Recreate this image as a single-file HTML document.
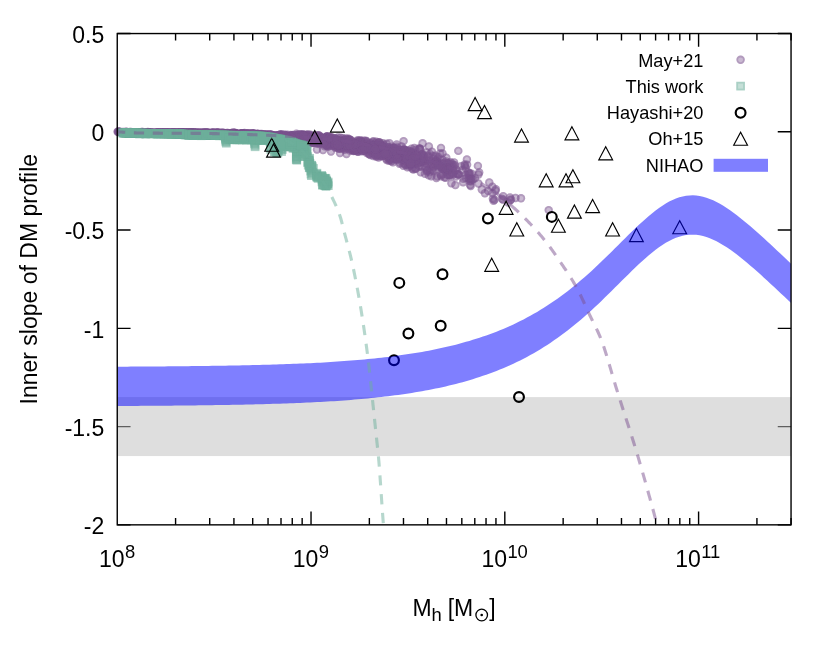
<!DOCTYPE html>
<html><head><meta charset="utf-8"><title>Inner slope of DM profile</title>
<style>html,body{margin:0;padding:0;background:#fff;}svg{display:block;font-family:"Liberation Sans", sans-serif;will-change:transform;}text{font-family:"Liberation Sans", sans-serif;fill:#000;}</style></head><body>
<svg width="830" height="664" viewBox="0 0 830 664">
<rect x="0" y="0" width="830" height="664" fill="#fff"/>
<defs><g id="p"><circle r="4.2" fill="rgb(123,82,143)" fill-opacity="0.4"/><circle r="3.3" fill="none" stroke="rgb(123,82,143)" stroke-opacity="0.3" stroke-width="1.8"/></g><g id="q"><rect x="-4.3" y="-4.3" width="8.6" height="8.6" fill="rgb(110,176,156)" fill-opacity="0.4"/><rect x="-3.4" y="-3.4" width="6.8" height="6.8" fill="none" stroke="rgb(110,176,156)" stroke-opacity="0.3" stroke-width="1.8"/></g></defs>
<g stroke="#000" stroke-width="1.40" fill="none" stroke-linecap="butt">
<path d="M175.58 524.85V517.95M175.58 33.55V40.45"/>
<path d="M209.71 524.85V517.95M209.71 33.55V40.45"/>
<path d="M233.92 524.85V517.95M233.92 33.55V40.45"/>
<path d="M252.70 524.85V517.95M252.70 33.55V40.45"/>
<path d="M268.04 524.85V517.95M268.04 33.55V40.45"/>
<path d="M281.01 524.85V517.95M281.01 33.55V40.45"/>
<path d="M292.25 524.85V517.95M292.25 33.55V40.45"/>
<path d="M302.16 524.85V517.95M302.16 33.55V40.45"/>
<path d="M311.03 524.85V511.55M311.03 33.55V46.85"/>
<path d="M369.36 524.85V517.95M369.36 33.55V40.45"/>
<path d="M403.49 524.85V517.95M403.49 33.55V40.45"/>
<path d="M427.70 524.85V517.95M427.70 33.55V40.45"/>
<path d="M446.48 524.85V517.95M446.48 33.55V40.45"/>
<path d="M461.82 524.85V517.95M461.82 33.55V40.45"/>
<path d="M474.79 524.85V517.95M474.79 33.55V40.45"/>
<path d="M486.03 524.85V517.95M486.03 33.55V40.45"/>
<path d="M495.95 524.85V517.95M495.95 33.55V40.45"/>
<path d="M504.81 524.85V511.55M504.81 33.55V46.85"/>
<path d="M563.15 524.85V517.95M563.15 33.55V40.45"/>
<path d="M597.27 524.85V517.95M597.27 33.55V40.45"/>
<path d="M621.48 524.85V517.95M621.48 33.55V40.45"/>
<path d="M640.26 524.85V517.95M640.26 33.55V40.45"/>
<path d="M655.60 524.85V517.95M655.60 33.55V40.45"/>
<path d="M668.58 524.85V517.95M668.58 33.55V40.45"/>
<path d="M679.81 524.85V517.95M679.81 33.55V40.45"/>
<path d="M689.73 524.85V517.95M689.73 33.55V40.45"/>
<path d="M698.59 524.85V511.55M698.59 33.55V46.85"/>
<path d="M756.93 524.85V517.95M756.93 33.55V40.45"/>
<path d="M791.05 524.85V517.95M791.05 33.55V40.45"/>
<path d="M117.25 33.55H130.55M791.05 33.55H777.75"/>
<path d="M117.25 131.81H130.55M791.05 131.81H777.75"/>
<path d="M117.25 230.07H130.55M791.05 230.07H777.75"/>
<path d="M117.25 328.33H130.55M791.05 328.33H777.75"/>
<path d="M117.25 426.59H130.55M791.05 426.59H777.75"/>
<path d="M117.25 524.85H130.55M791.05 524.85H777.75"/>
</g>
<rect x="117.25" y="397.11" width="673.80" height="58.96" fill="rgb(190,190,190)" fill-opacity="0.5"/>
<use href="#p" x="123.0" y="132.1"/>
<use href="#p" x="268.8" y="134.1"/>
<use href="#p" x="377.8" y="155.4"/>
<use href="#p" x="354.9" y="145.9"/>
<use href="#p" x="245.9" y="136.6"/>
<use href="#p" x="328.9" y="144.7"/>
<use href="#p" x="435.5" y="161.3"/>
<use href="#p" x="226.9" y="134.5"/>
<use href="#p" x="304.1" y="140.6"/>
<use href="#p" x="167.1" y="132.3"/>
<use href="#p" x="470.2" y="185.0"/>
<use href="#p" x="335.6" y="138.5"/>
<use href="#p" x="387.1" y="150.8"/>
<use href="#p" x="404.2" y="152.2"/>
<use href="#p" x="217.3" y="133.4"/>
<use href="#p" x="360.6" y="148.6"/>
<use href="#p" x="428.7" y="175.2"/>
<use href="#p" x="469.5" y="173.1"/>
<use href="#p" x="149.2" y="132.1"/>
<use href="#p" x="423.6" y="156.2"/>
<use href="#p" x="234.3" y="133.1"/>
<use href="#p" x="165.3" y="132.5"/>
<use href="#p" x="361.7" y="145.2"/>
<use href="#p" x="338.8" y="141.3"/>
<use href="#p" x="178.6" y="132.7"/>
<use href="#p" x="492.9" y="198.7"/>
<use href="#p" x="407.2" y="157.6"/>
<use href="#p" x="493.6" y="200.9"/>
<use href="#p" x="398.9" y="157.6"/>
<use href="#p" x="196.6" y="133.0"/>
<use href="#p" x="287.8" y="139.0"/>
<use href="#p" x="296.7" y="138.1"/>
<use href="#p" x="379.0" y="155.4"/>
<use href="#p" x="364.4" y="144.5"/>
<use href="#p" x="395.4" y="153.3"/>
<use href="#p" x="413.2" y="157.6"/>
<use href="#p" x="280.5" y="135.3"/>
<use href="#p" x="422.4" y="154.3"/>
<use href="#p" x="303.8" y="138.2"/>
<use href="#p" x="244.5" y="133.0"/>
<use href="#p" x="366.7" y="150.1"/>
<use href="#p" x="366.0" y="144.6"/>
<use href="#p" x="347.2" y="145.5"/>
<use href="#p" x="280.4" y="139.7"/>
<use href="#p" x="271.9" y="135.1"/>
<use href="#p" x="363.9" y="149.5"/>
<use href="#p" x="343.4" y="142.4"/>
<use href="#p" x="277.7" y="138.1"/>
<use href="#p" x="226.1" y="134.5"/>
<use href="#p" x="241.7" y="134.7"/>
<use href="#p" x="436.6" y="162.4"/>
<use href="#p" x="259.8" y="135.1"/>
<use href="#p" x="380.1" y="156.4"/>
<use href="#p" x="326.3" y="142.2"/>
<use href="#p" x="241.5" y="135.6"/>
<use href="#p" x="248.3" y="134.0"/>
<use href="#p" x="234.1" y="134.2"/>
<use href="#p" x="369.3" y="149.6"/>
<use href="#p" x="353.0" y="146.4"/>
<use href="#p" x="388.4" y="147.5"/>
<use href="#p" x="387.1" y="149.8"/>
<use href="#p" x="280.3" y="136.6"/>
<use href="#p" x="442.6" y="159.9"/>
<use href="#p" x="394.2" y="148.1"/>
<use href="#p" x="206.5" y="133.3"/>
<use href="#p" x="242.7" y="134.4"/>
<use href="#p" x="361.9" y="148.1"/>
<use href="#p" x="242.8" y="134.3"/>
<use href="#p" x="150.5" y="132.3"/>
<use href="#p" x="185.8" y="132.6"/>
<use href="#p" x="297.0" y="138.5"/>
<use href="#p" x="346.5" y="154.0"/>
<use href="#p" x="362.6" y="142.6"/>
<use href="#p" x="345.0" y="146.0"/>
<use href="#p" x="458.7" y="174.3"/>
<use href="#p" x="366.7" y="141.2"/>
<use href="#p" x="381.0" y="146.3"/>
<use href="#p" x="377.0" y="146.0"/>
<use href="#p" x="382.1" y="154.1"/>
<use href="#p" x="408.3" y="154.2"/>
<use href="#p" x="279.8" y="135.2"/>
<use href="#p" x="141.6" y="131.9"/>
<use href="#p" x="305.7" y="139.5"/>
<use href="#p" x="336.9" y="141.8"/>
<use href="#p" x="404.8" y="150.2"/>
<use href="#p" x="401.4" y="161.0"/>
<use href="#p" x="330.0" y="145.9"/>
<use href="#p" x="236.4" y="135.2"/>
<use href="#p" x="236.9" y="134.2"/>
<use href="#p" x="408.9" y="166.4"/>
<use href="#p" x="129.6" y="131.9"/>
<use href="#p" x="450.5" y="162.2"/>
<use href="#p" x="260.6" y="136.6"/>
<use href="#p" x="421.5" y="161.5"/>
<use href="#p" x="319.3" y="135.6"/>
<use href="#p" x="395.6" y="149.4"/>
<use href="#p" x="240.9" y="133.6"/>
<use href="#p" x="344.1" y="148.2"/>
<use href="#p" x="389.7" y="160.1"/>
<use href="#p" x="395.5" y="154.1"/>
<use href="#p" x="238.5" y="134.7"/>
<use href="#p" x="355.5" y="146.1"/>
<use href="#p" x="239.9" y="135.5"/>
<use href="#p" x="220.8" y="134.1"/>
<use href="#p" x="353.0" y="150.3"/>
<use href="#p" x="235.7" y="133.8"/>
<use href="#p" x="198.6" y="133.6"/>
<use href="#p" x="433.5" y="158.7"/>
<use href="#p" x="444.4" y="169.1"/>
<use href="#p" x="273.4" y="137.9"/>
<use href="#p" x="164.0" y="132.4"/>
<use href="#p" x="389.3" y="158.0"/>
<use href="#p" x="277.1" y="135.6"/>
<use href="#p" x="217.9" y="132.8"/>
<use href="#p" x="449.7" y="175.4"/>
<use href="#p" x="260.3" y="134.7"/>
<use href="#p" x="161.5" y="132.8"/>
<use href="#p" x="202.5" y="133.5"/>
<use href="#p" x="290.6" y="138.6"/>
<use href="#p" x="337.8" y="143.1"/>
<use href="#p" x="410.9" y="165.3"/>
<use href="#p" x="464.7" y="164.5"/>
<use href="#p" x="359.8" y="144.0"/>
<use href="#p" x="443.5" y="168.9"/>
<use href="#p" x="244.5" y="134.1"/>
<use href="#p" x="410.4" y="156.5"/>
<use href="#p" x="175.6" y="133.0"/>
<use href="#p" x="118.0" y="131.8"/>
<use href="#p" x="341.6" y="145.8"/>
<use href="#p" x="178.6" y="132.6"/>
<use href="#p" x="316.5" y="140.2"/>
<use href="#p" x="219.4" y="133.9"/>
<use href="#p" x="370.9" y="147.3"/>
<use href="#p" x="221.9" y="134.0"/>
<use href="#p" x="419.5" y="148.2"/>
<use href="#p" x="437.6" y="158.8"/>
<use href="#p" x="285.5" y="137.5"/>
<use href="#p" x="322.1" y="139.0"/>
<use href="#p" x="118.4" y="131.8"/>
<use href="#p" x="326.4" y="142.7"/>
<use href="#p" x="278.0" y="136.3"/>
<use href="#p" x="181.9" y="132.4"/>
<use href="#p" x="203.1" y="132.7"/>
<use href="#p" x="237.2" y="136.0"/>
<use href="#p" x="347.6" y="145.7"/>
<use href="#p" x="343.6" y="140.1"/>
<use href="#p" x="285.8" y="136.3"/>
<use href="#p" x="418.7" y="161.9"/>
<use href="#p" x="170.7" y="133.0"/>
<use href="#p" x="392.9" y="149.7"/>
<use href="#p" x="167.3" y="132.9"/>
<use href="#p" x="204.1" y="133.7"/>
<use href="#p" x="298.7" y="139.9"/>
<use href="#p" x="363.1" y="147.8"/>
<use href="#p" x="260.8" y="137.4"/>
<use href="#p" x="252.2" y="135.2"/>
<use href="#p" x="376.3" y="154.4"/>
<use href="#p" x="290.3" y="135.8"/>
<use href="#p" x="340.1" y="144.5"/>
<use href="#p" x="191.9" y="132.9"/>
<use href="#p" x="271.1" y="134.6"/>
<use href="#p" x="399.0" y="154.2"/>
<use href="#p" x="489.3" y="182.5"/>
<use href="#p" x="452.8" y="169.3"/>
<use href="#p" x="320.7" y="140.2"/>
<use href="#p" x="275.7" y="137.2"/>
<use href="#p" x="226.6" y="134.2"/>
<use href="#p" x="241.7" y="135.0"/>
<use href="#p" x="317.0" y="149.5"/>
<use href="#p" x="171.3" y="132.6"/>
<use href="#p" x="279.6" y="137.8"/>
<use href="#p" x="251.9" y="136.2"/>
<use href="#p" x="413.4" y="169.6"/>
<use href="#p" x="162.3" y="132.5"/>
<use href="#p" x="197.7" y="133.0"/>
<use href="#p" x="264.1" y="134.8"/>
<use href="#p" x="278.8" y="138.4"/>
<use href="#p" x="254.6" y="133.7"/>
<use href="#p" x="216.5" y="133.0"/>
<use href="#p" x="313.3" y="135.6"/>
<use href="#p" x="268.8" y="136.2"/>
<use href="#p" x="343.2" y="144.1"/>
<use href="#p" x="441.3" y="167.1"/>
<use href="#p" x="401.6" y="146.4"/>
<use href="#p" x="280.3" y="134.3"/>
<use href="#p" x="293.5" y="135.1"/>
<use href="#p" x="334.2" y="143.0"/>
<use href="#p" x="187.3" y="133.4"/>
<use href="#p" x="399.2" y="152.8"/>
<use href="#p" x="328.0" y="145.3"/>
<use href="#p" x="237.7" y="135.1"/>
<use href="#p" x="282.3" y="135.9"/>
<use href="#p" x="228.4" y="134.2"/>
<use href="#p" x="183.9" y="132.8"/>
<use href="#p" x="222.8" y="133.0"/>
<use href="#p" x="357.7" y="140.1"/>
<use href="#p" x="215.5" y="133.5"/>
<use href="#p" x="224.2" y="133.1"/>
<use href="#p" x="131.0" y="131.9"/>
<use href="#p" x="245.3" y="134.2"/>
<use href="#p" x="280.9" y="139.9"/>
<use href="#p" x="254.5" y="134.4"/>
<use href="#p" x="152.4" y="132.3"/>
<use href="#p" x="388.5" y="147.5"/>
<use href="#p" x="469.5" y="173.6"/>
<use href="#p" x="243.0" y="133.3"/>
<use href="#p" x="380.3" y="148.3"/>
<use href="#p" x="332.0" y="145.5"/>
<use href="#p" x="349.6" y="147.1"/>
<use href="#p" x="235.8" y="135.3"/>
<use href="#p" x="258.2" y="135.9"/>
<use href="#p" x="319.8" y="142.4"/>
<use href="#p" x="335.9" y="144.6"/>
<use href="#p" x="279.9" y="138.2"/>
<use href="#p" x="184.0" y="132.9"/>
<use href="#p" x="272.7" y="135.6"/>
<use href="#p" x="243.7" y="135.1"/>
<use href="#p" x="215.8" y="134.0"/>
<use href="#p" x="466.9" y="159.5"/>
<use href="#p" x="344.4" y="146.3"/>
<use href="#p" x="313.2" y="140.8"/>
<use href="#p" x="205.7" y="134.1"/>
<use href="#p" x="261.2" y="135.7"/>
<use href="#p" x="217.7" y="132.7"/>
<use href="#p" x="422.6" y="143.3"/>
<use href="#p" x="168.5" y="132.1"/>
<use href="#p" x="407.6" y="150.2"/>
<use href="#p" x="384.3" y="155.3"/>
<use href="#p" x="285.4" y="140.0"/>
<use href="#p" x="371.5" y="147.7"/>
<use href="#p" x="245.5" y="134.6"/>
<use href="#p" x="447.0" y="163.1"/>
<use href="#p" x="408.0" y="164.8"/>
<use href="#p" x="249.3" y="136.1"/>
<use href="#p" x="303.9" y="141.1"/>
<use href="#p" x="354.7" y="148.6"/>
<use href="#p" x="244.9" y="136.1"/>
<use href="#p" x="310.9" y="138.1"/>
<use href="#p" x="278.3" y="138.8"/>
<use href="#p" x="384.5" y="151.4"/>
<use href="#p" x="465.6" y="178.1"/>
<use href="#p" x="423.1" y="155.9"/>
<use href="#p" x="378.2" y="150.6"/>
<use href="#p" x="315.2" y="136.5"/>
<use href="#p" x="301.4" y="134.6"/>
<use href="#p" x="548.7" y="210.1"/>
<use href="#p" x="244.0" y="135.0"/>
<use href="#p" x="214.8" y="134.3"/>
<use href="#p" x="231.4" y="133.9"/>
<use href="#p" x="335.3" y="146.0"/>
<use href="#p" x="349.2" y="145.2"/>
<use href="#p" x="411.8" y="152.8"/>
<use href="#p" x="184.4" y="133.1"/>
<use href="#p" x="322.1" y="137.9"/>
<use href="#p" x="358.3" y="151.7"/>
<use href="#p" x="303.7" y="141.8"/>
<use href="#p" x="381.9" y="156.0"/>
<use href="#p" x="253.4" y="134.7"/>
<use href="#p" x="373.3" y="156.0"/>
<use href="#p" x="305.5" y="135.7"/>
<use href="#p" x="245.0" y="134.9"/>
<use href="#p" x="322.8" y="142.2"/>
<use href="#p" x="208.5" y="133.3"/>
<use href="#p" x="392.8" y="150.2"/>
<use href="#p" x="289.2" y="140.7"/>
<use href="#p" x="418.5" y="155.3"/>
<use href="#p" x="297.6" y="139.4"/>
<use href="#p" x="314.3" y="138.1"/>
<use href="#p" x="203.3" y="132.7"/>
<use href="#p" x="184.3" y="132.8"/>
<use href="#p" x="187.9" y="132.9"/>
<use href="#p" x="422.8" y="160.8"/>
<use href="#p" x="230.9" y="134.0"/>
<use href="#p" x="341.1" y="141.2"/>
<use href="#p" x="193.2" y="133.2"/>
<use href="#p" x="469.7" y="181.0"/>
<use href="#p" x="309.8" y="138.1"/>
<use href="#p" x="320.0" y="139.0"/>
<use href="#p" x="189.3" y="132.5"/>
<use href="#p" x="284.4" y="136.6"/>
<use href="#p" x="320.3" y="138.0"/>
<use href="#p" x="280.3" y="138.6"/>
<use href="#p" x="207.9" y="133.1"/>
<use href="#p" x="302.2" y="143.5"/>
<use href="#p" x="341.4" y="141.7"/>
<use href="#p" x="387.0" y="156.4"/>
<use href="#p" x="338.8" y="148.4"/>
<use href="#p" x="392.6" y="149.2"/>
<use href="#p" x="207.5" y="133.5"/>
<use href="#p" x="264.7" y="136.2"/>
<use href="#p" x="356.5" y="141.6"/>
<use href="#p" x="393.5" y="158.8"/>
<use href="#p" x="266.1" y="136.7"/>
<use href="#p" x="390.3" y="151.3"/>
<use href="#p" x="456.9" y="173.9"/>
<use href="#p" x="326.1" y="137.4"/>
<use href="#p" x="471.1" y="181.3"/>
<use href="#p" x="319.2" y="138.5"/>
<use href="#p" x="182.0" y="132.5"/>
<use href="#p" x="413.7" y="157.6"/>
<use href="#p" x="424.4" y="160.7"/>
<use href="#p" x="454.7" y="170.7"/>
<use href="#p" x="243.2" y="133.6"/>
<use href="#p" x="226.9" y="133.0"/>
<use href="#p" x="357.3" y="148.7"/>
<use href="#p" x="196.2" y="132.9"/>
<use href="#p" x="379.2" y="142.4"/>
<use href="#p" x="376.3" y="141.6"/>
<use href="#p" x="295.4" y="138.3"/>
<use href="#p" x="378.6" y="149.5"/>
<use href="#p" x="304.7" y="144.1"/>
<use href="#p" x="234.9" y="134.5"/>
<use href="#p" x="363.0" y="148.4"/>
<use href="#p" x="344.5" y="139.6"/>
<use href="#p" x="320.1" y="136.6"/>
<use href="#p" x="349.1" y="138.9"/>
<use href="#p" x="196.9" y="132.7"/>
<use href="#p" x="341.1" y="142.2"/>
<use href="#p" x="427.5" y="169.9"/>
<use href="#p" x="250.4" y="133.6"/>
<use href="#p" x="447.5" y="174.9"/>
<use href="#p" x="184.8" y="132.5"/>
<use href="#p" x="299.9" y="140.0"/>
<use href="#p" x="252.9" y="136.2"/>
<use href="#p" x="310.3" y="135.8"/>
<use href="#p" x="210.2" y="133.4"/>
<use href="#p" x="205.9" y="133.9"/>
<use href="#p" x="404.1" y="163.7"/>
<use href="#p" x="324.8" y="138.8"/>
<use href="#p" x="137.7" y="132.2"/>
<use href="#p" x="254.0" y="133.8"/>
<use href="#p" x="379.6" y="150.5"/>
<use href="#p" x="427.4" y="164.0"/>
<use href="#p" x="125.0" y="132.2"/>
<use href="#p" x="258.7" y="137.1"/>
<use href="#p" x="412.3" y="167.2"/>
<use href="#p" x="222.4" y="133.3"/>
<use href="#p" x="203.8" y="132.8"/>
<use href="#p" x="243.1" y="133.8"/>
<use href="#p" x="281.9" y="137.2"/>
<use href="#p" x="227.8" y="133.8"/>
<use href="#p" x="414.6" y="156.6"/>
<use href="#p" x="353.6" y="151.1"/>
<use href="#p" x="240.9" y="134.4"/>
<use href="#p" x="330.0" y="143.4"/>
<use href="#p" x="452.2" y="163.7"/>
<use href="#p" x="357.9" y="150.1"/>
<use href="#p" x="210.0" y="133.3"/>
<use href="#p" x="222.6" y="134.6"/>
<use href="#p" x="386.5" y="149.5"/>
<use href="#p" x="164.3" y="133.0"/>
<use href="#p" x="333.2" y="141.6"/>
<use href="#p" x="411.5" y="148.8"/>
<use href="#p" x="352.5" y="146.0"/>
<use href="#p" x="238.1" y="134.3"/>
<use href="#p" x="377.5" y="150.7"/>
<use href="#p" x="378.8" y="150.3"/>
<use href="#p" x="402.3" y="149.4"/>
<use href="#p" x="244.6" y="134.5"/>
<use href="#p" x="421.7" y="154.8"/>
<use href="#p" x="274.1" y="135.5"/>
<use href="#p" x="376.6" y="154.3"/>
<use href="#p" x="318.4" y="139.3"/>
<use href="#p" x="265.6" y="135.6"/>
<use href="#p" x="354.1" y="143.0"/>
<use href="#p" x="253.8" y="136.4"/>
<use href="#p" x="325.6" y="139.9"/>
<use href="#p" x="218.1" y="134.7"/>
<use href="#p" x="266.5" y="137.8"/>
<use href="#p" x="273.0" y="139.3"/>
<use href="#p" x="314.4" y="136.9"/>
<use href="#p" x="234.2" y="135.9"/>
<use href="#p" x="306.0" y="136.9"/>
<use href="#p" x="253.2" y="133.7"/>
<use href="#p" x="361.1" y="141.0"/>
<use href="#p" x="310.3" y="137.4"/>
<use href="#p" x="208.8" y="132.7"/>
<use href="#p" x="257.9" y="135.5"/>
<use href="#p" x="303.1" y="137.9"/>
<use href="#p" x="436.9" y="163.3"/>
<use href="#p" x="215.4" y="133.8"/>
<use href="#p" x="332.7" y="143.4"/>
<use href="#p" x="283.8" y="137.0"/>
<use href="#p" x="437.6" y="165.4"/>
<use href="#p" x="389.8" y="154.0"/>
<use href="#p" x="313.7" y="138.0"/>
<use href="#p" x="236.0" y="133.5"/>
<use href="#p" x="328.0" y="138.6"/>
<use href="#p" x="191.8" y="132.5"/>
<use href="#p" x="359.9" y="149.7"/>
<use href="#p" x="478.4" y="183.5"/>
<use href="#p" x="292.5" y="134.9"/>
<use href="#p" x="126.4" y="131.9"/>
<use href="#p" x="317.5" y="135.3"/>
<use href="#p" x="478.5" y="174.5"/>
<use href="#p" x="348.2" y="144.1"/>
<use href="#p" x="415.4" y="168.6"/>
<use href="#p" x="406.3" y="154.2"/>
<use href="#p" x="376.9" y="147.8"/>
<use href="#p" x="337.4" y="146.0"/>
<use href="#p" x="212.8" y="132.5"/>
<use href="#p" x="214.8" y="133.5"/>
<use href="#p" x="384.7" y="153.8"/>
<use href="#p" x="340.8" y="145.2"/>
<use href="#p" x="146.5" y="132.1"/>
<use href="#p" x="327.4" y="136.6"/>
<use href="#p" x="148.3" y="132.2"/>
<use href="#p" x="209.6" y="133.4"/>
<use href="#p" x="197.2" y="133.3"/>
<use href="#p" x="384.8" y="153.5"/>
<use href="#p" x="212.7" y="132.6"/>
<use href="#p" x="292.3" y="135.2"/>
<use href="#p" x="350.1" y="148.0"/>
<use href="#p" x="351.9" y="142.8"/>
<use href="#p" x="158.5" y="132.4"/>
<use href="#p" x="369.5" y="154.2"/>
<use href="#p" x="368.2" y="150.4"/>
<use href="#p" x="349.5" y="146.4"/>
<use href="#p" x="330.4" y="140.4"/>
<use href="#p" x="363.7" y="140.6"/>
<use href="#p" x="207.4" y="133.5"/>
<use href="#p" x="119.6" y="131.9"/>
<use href="#p" x="249.4" y="133.6"/>
<use href="#p" x="345.5" y="141.3"/>
<use href="#p" x="271.2" y="139.1"/>
<use href="#p" x="294.3" y="136.1"/>
<use href="#p" x="225.0" y="134.1"/>
<use href="#p" x="190.0" y="132.4"/>
<use href="#p" x="204.6" y="132.7"/>
<use href="#p" x="184.1" y="133.0"/>
<use href="#p" x="257.1" y="136.8"/>
<use href="#p" x="239.7" y="134.3"/>
<use href="#p" x="256.1" y="135.4"/>
<use href="#p" x="305.5" y="138.9"/>
<use href="#p" x="253.8" y="133.8"/>
<use href="#p" x="188.6" y="132.9"/>
<use href="#p" x="346.9" y="140.5"/>
<use href="#p" x="233.7" y="133.6"/>
<use href="#p" x="327.7" y="145.2"/>
<use href="#p" x="458.4" y="174.5"/>
<use href="#p" x="234.7" y="132.8"/>
<use href="#p" x="410.9" y="158.9"/>
<use href="#p" x="291.3" y="142.0"/>
<use href="#p" x="163.1" y="132.1"/>
<use href="#p" x="375.1" y="146.9"/>
<use href="#p" x="247.0" y="134.8"/>
<use href="#p" x="130.9" y="132.3"/>
<use href="#p" x="194.2" y="132.8"/>
<use href="#p" x="465.5" y="174.9"/>
<use href="#p" x="194.8" y="132.7"/>
<use href="#p" x="196.1" y="133.7"/>
<use href="#p" x="374.6" y="152.4"/>
<use href="#p" x="310.3" y="134.8"/>
<use href="#p" x="185.3" y="133.1"/>
<use href="#p" x="246.2" y="133.2"/>
<use href="#p" x="428.4" y="163.3"/>
<use href="#p" x="261.5" y="136.3"/>
<use href="#p" x="282.2" y="140.5"/>
<use href="#p" x="281.4" y="138.4"/>
<use href="#p" x="218.8" y="133.6"/>
<use href="#p" x="286.9" y="138.8"/>
<use href="#p" x="228.8" y="134.2"/>
<use href="#p" x="357.1" y="145.7"/>
<use href="#p" x="126.3" y="131.8"/>
<use href="#p" x="379.3" y="144.4"/>
<use href="#p" x="187.1" y="133.3"/>
<use href="#p" x="248.1" y="135.4"/>
<use href="#p" x="412.4" y="168.9"/>
<use href="#p" x="281.1" y="135.0"/>
<use href="#p" x="378.4" y="142.7"/>
<use href="#p" x="258.0" y="134.6"/>
<use href="#p" x="211.2" y="133.5"/>
<use href="#p" x="350.3" y="139.9"/>
<use href="#p" x="198.2" y="132.9"/>
<use href="#p" x="208.7" y="133.2"/>
<use href="#p" x="253.6" y="135.9"/>
<use href="#p" x="357.9" y="141.0"/>
<use href="#p" x="187.0" y="132.7"/>
<use href="#p" x="148.2" y="132.6"/>
<use href="#p" x="156.6" y="132.8"/>
<use href="#p" x="166.6" y="132.5"/>
<use href="#p" x="382.9" y="143.1"/>
<use href="#p" x="220.7" y="133.9"/>
<use href="#p" x="260.9" y="134.7"/>
<use href="#p" x="320.9" y="142.5"/>
<use href="#p" x="264.2" y="136.2"/>
<use href="#p" x="338.9" y="142.3"/>
<use href="#p" x="206.4" y="133.1"/>
<use href="#p" x="410.3" y="156.7"/>
<use href="#p" x="285.3" y="137.6"/>
<use href="#p" x="356.7" y="145.4"/>
<use href="#p" x="230.9" y="135.7"/>
<use href="#p" x="204.6" y="133.8"/>
<use href="#p" x="255.4" y="135.6"/>
<use href="#p" x="370.3" y="149.8"/>
<use href="#p" x="197.2" y="133.9"/>
<use href="#p" x="316.1" y="139.0"/>
<use href="#p" x="351.3" y="143.2"/>
<use href="#p" x="252.4" y="135.9"/>
<use href="#p" x="257.6" y="136.5"/>
<use href="#p" x="419.7" y="148.9"/>
<use href="#p" x="386.7" y="160.1"/>
<use href="#p" x="369.0" y="154.0"/>
<use href="#p" x="287.3" y="140.5"/>
<use href="#p" x="362.0" y="145.3"/>
<use href="#p" x="147.9" y="132.1"/>
<use href="#p" x="266.6" y="134.3"/>
<use href="#p" x="342.4" y="141.8"/>
<use href="#p" x="436.7" y="161.3"/>
<use href="#p" x="191.2" y="132.7"/>
<use href="#p" x="173.8" y="132.2"/>
<use href="#p" x="277.4" y="137.8"/>
<use href="#p" x="382.9" y="146.4"/>
<use href="#p" x="179.1" y="132.8"/>
<use href="#p" x="403.0" y="154.4"/>
<use href="#p" x="288.2" y="137.1"/>
<use href="#p" x="278.3" y="135.7"/>
<use href="#p" x="392.4" y="158.9"/>
<use href="#p" x="405.0" y="158.0"/>
<use href="#p" x="226.9" y="135.3"/>
<use href="#p" x="418.4" y="163.2"/>
<use href="#p" x="404.0" y="149.2"/>
<use href="#p" x="264.0" y="135.3"/>
<use href="#p" x="216.2" y="132.9"/>
<use href="#p" x="285.5" y="135.8"/>
<use href="#p" x="278.7" y="136.8"/>
<use href="#p" x="411.0" y="157.0"/>
<use href="#p" x="225.4" y="134.7"/>
<use href="#p" x="407.4" y="167.4"/>
<use href="#p" x="303.9" y="137.1"/>
<use href="#p" x="366.6" y="146.9"/>
<use href="#p" x="177.7" y="132.7"/>
<use href="#p" x="378.7" y="148.6"/>
<use href="#p" x="349.8" y="143.6"/>
<use href="#p" x="284.2" y="141.2"/>
<use href="#p" x="345.9" y="142.7"/>
<use href="#p" x="358.2" y="146.1"/>
<use href="#p" x="403.4" y="157.9"/>
<use href="#p" x="330.2" y="142.0"/>
<use href="#p" x="322.3" y="138.6"/>
<use href="#p" x="191.6" y="133.2"/>
<use href="#p" x="340.7" y="144.7"/>
<use href="#p" x="232.3" y="133.2"/>
<use href="#p" x="200.6" y="133.6"/>
<use href="#p" x="172.6" y="132.5"/>
<use href="#p" x="340.0" y="153.0"/>
<use href="#p" x="328.4" y="141.2"/>
<use href="#p" x="324.5" y="138.6"/>
<use href="#p" x="442.8" y="174.2"/>
<use href="#p" x="383.7" y="149.2"/>
<use href="#p" x="492.5" y="193.1"/>
<use href="#p" x="405.7" y="165.0"/>
<use href="#p" x="239.9" y="133.9"/>
<use href="#p" x="437.2" y="176.4"/>
<use href="#p" x="400.4" y="158.5"/>
<use href="#p" x="217.3" y="132.8"/>
<use href="#p" x="359.9" y="146.3"/>
<use href="#p" x="391.6" y="156.1"/>
<use href="#p" x="401.8" y="159.5"/>
<use href="#p" x="356.2" y="147.8"/>
<use href="#p" x="279.5" y="135.9"/>
<use href="#p" x="414.9" y="161.4"/>
<use href="#p" x="124.2" y="131.9"/>
<use href="#p" x="119.6" y="131.9"/>
<use href="#p" x="400.5" y="154.6"/>
<use href="#p" x="390.0" y="153.5"/>
<use href="#p" x="199.2" y="134.0"/>
<use href="#p" x="215.5" y="133.0"/>
<use href="#p" x="422.2" y="154.2"/>
<use href="#p" x="405.4" y="153.4"/>
<use href="#p" x="207.4" y="132.9"/>
<use href="#p" x="335.3" y="141.3"/>
<use href="#p" x="269.8" y="136.6"/>
<use href="#p" x="218.7" y="134.6"/>
<use href="#p" x="442.5" y="163.9"/>
<use href="#p" x="264.5" y="138.0"/>
<use href="#p" x="214.0" y="132.7"/>
<use href="#p" x="212.6" y="132.9"/>
<use href="#p" x="395.5" y="148.6"/>
<use href="#p" x="303.7" y="141.3"/>
<use href="#p" x="235.0" y="134.6"/>
<use href="#p" x="315.9" y="138.7"/>
<use href="#p" x="366.2" y="143.3"/>
<use href="#p" x="211.5" y="133.2"/>
<use href="#p" x="424.3" y="160.4"/>
<use href="#p" x="274.5" y="138.2"/>
<use href="#p" x="433.6" y="167.3"/>
<use href="#p" x="390.9" y="152.4"/>
<use href="#p" x="371.4" y="145.4"/>
<use href="#p" x="214.7" y="133.2"/>
<use href="#p" x="283.1" y="139.2"/>
<use href="#p" x="435.9" y="169.6"/>
<use href="#p" x="167.9" y="132.5"/>
<use href="#p" x="366.8" y="153.1"/>
<use href="#p" x="207.3" y="133.1"/>
<use href="#p" x="304.6" y="137.7"/>
<use href="#p" x="260.9" y="134.1"/>
<use href="#p" x="271.5" y="134.8"/>
<use href="#p" x="431.5" y="164.1"/>
<use href="#p" x="208.4" y="133.8"/>
<use href="#p" x="273.1" y="135.4"/>
<use href="#p" x="218.8" y="133.6"/>
<use href="#p" x="286.9" y="135.9"/>
<use href="#p" x="368.0" y="147.2"/>
<use href="#p" x="333.5" y="143.5"/>
<use href="#p" x="238.0" y="136.1"/>
<use href="#p" x="227.8" y="134.6"/>
<use href="#p" x="297.3" y="135.0"/>
<use href="#p" x="431.3" y="176.2"/>
<use href="#p" x="208.7" y="133.6"/>
<use href="#p" x="182.1" y="132.2"/>
<use href="#p" x="274.6" y="136.6"/>
<use href="#p" x="205.7" y="132.8"/>
<use href="#p" x="264.8" y="138.3"/>
<use href="#p" x="368.7" y="148.9"/>
<use href="#p" x="381.7" y="156.0"/>
<use href="#p" x="235.9" y="134.4"/>
<use href="#p" x="292.4" y="138.0"/>
<use href="#p" x="162.6" y="132.1"/>
<use href="#p" x="122.5" y="131.9"/>
<use href="#p" x="352.5" y="150.6"/>
<use href="#p" x="332.8" y="142.8"/>
<use href="#p" x="465.7" y="168.0"/>
<use href="#p" x="326.9" y="136.6"/>
<use href="#p" x="240.1" y="134.4"/>
<use href="#p" x="271.2" y="137.7"/>
<use href="#p" x="436.6" y="161.8"/>
<use href="#p" x="447.7" y="167.0"/>
<use href="#p" x="270.7" y="135.8"/>
<use href="#p" x="208.9" y="133.9"/>
<use href="#p" x="218.6" y="132.9"/>
<use href="#p" x="157.0" y="132.2"/>
<use href="#p" x="181.9" y="132.5"/>
<use href="#p" x="348.5" y="145.1"/>
<use href="#p" x="290.8" y="138.4"/>
<use href="#p" x="351.4" y="142.9"/>
<use href="#p" x="359.2" y="142.9"/>
<use href="#p" x="248.5" y="136.4"/>
<use href="#p" x="315.3" y="142.7"/>
<use href="#p" x="471.0" y="178.2"/>
<use href="#p" x="412.8" y="157.1"/>
<use href="#p" x="397.8" y="155.2"/>
<use href="#p" x="130.3" y="132.4"/>
<use href="#p" x="349.2" y="142.5"/>
<use href="#p" x="326.5" y="145.6"/>
<use href="#p" x="285.4" y="138.5"/>
<use href="#p" x="306.3" y="134.9"/>
<use href="#p" x="280.2" y="136.0"/>
<use href="#p" x="349.7" y="142.5"/>
<use href="#p" x="463.5" y="178.9"/>
<use href="#p" x="282.3" y="140.1"/>
<use href="#p" x="222.6" y="134.7"/>
<use href="#p" x="318.9" y="139.3"/>
<use href="#p" x="256.2" y="136.0"/>
<use href="#p" x="395.2" y="154.4"/>
<use href="#p" x="211.0" y="132.7"/>
<use href="#p" x="222.1" y="133.9"/>
<use href="#p" x="331.3" y="137.7"/>
<use href="#p" x="256.8" y="134.1"/>
<use href="#p" x="322.0" y="140.2"/>
<use href="#p" x="403.6" y="141.1"/>
<use href="#p" x="319.8" y="136.8"/>
<use href="#p" x="383.3" y="148.7"/>
<use href="#p" x="470.7" y="186.0"/>
<use href="#p" x="197.4" y="133.8"/>
<use href="#p" x="289.8" y="139.1"/>
<use href="#p" x="257.9" y="134.9"/>
<use href="#p" x="275.7" y="137.5"/>
<use href="#p" x="368.5" y="149.2"/>
<use href="#p" x="205.3" y="133.1"/>
<use href="#p" x="187.7" y="132.7"/>
<use href="#p" x="362.9" y="148.8"/>
<use href="#p" x="330.9" y="144.5"/>
<use href="#p" x="351.8" y="143.5"/>
<use href="#p" x="413.7" y="157.3"/>
<use href="#p" x="357.4" y="148.3"/>
<use href="#p" x="246.9" y="135.8"/>
<use href="#p" x="215.9" y="134.2"/>
<use href="#p" x="185.6" y="133.4"/>
<use href="#p" x="217.9" y="134.6"/>
<use href="#p" x="318.2" y="138.6"/>
<use href="#p" x="311.7" y="138.5"/>
<use href="#p" x="372.1" y="149.5"/>
<use href="#p" x="259.3" y="134.7"/>
<use href="#p" x="438.5" y="162.8"/>
<use href="#p" x="521.0" y="198.3"/>
<use href="#p" x="244.0" y="136.2"/>
<use href="#p" x="396.3" y="153.3"/>
<use href="#p" x="275.7" y="139.0"/>
<use href="#p" x="250.2" y="135.6"/>
<use href="#p" x="259.9" y="134.0"/>
<use href="#p" x="411.3" y="158.5"/>
<use href="#p" x="372.3" y="144.1"/>
<use href="#p" x="339.5" y="144.8"/>
<use href="#p" x="223.9" y="134.5"/>
<use href="#p" x="309.8" y="142.1"/>
<use href="#p" x="399.5" y="163.8"/>
<use href="#p" x="414.9" y="157.0"/>
<use href="#p" x="232.9" y="134.2"/>
<use href="#p" x="181.6" y="132.7"/>
<use href="#p" x="337.7" y="141.0"/>
<use href="#p" x="304.0" y="137.9"/>
<use href="#p" x="386.3" y="152.2"/>
<use href="#p" x="325.5" y="144.1"/>
<use href="#p" x="316.3" y="138.9"/>
<use href="#p" x="339.1" y="144.5"/>
<use href="#p" x="335.8" y="141.2"/>
<use href="#p" x="413.5" y="164.1"/>
<use href="#p" x="346.9" y="146.8"/>
<use href="#p" x="427.1" y="170.8"/>
<use href="#p" x="380.5" y="146.0"/>
<use href="#p" x="182.2" y="133.2"/>
<use href="#p" x="182.1" y="132.5"/>
<use href="#p" x="231.4" y="134.8"/>
<use href="#p" x="374.9" y="154.7"/>
<use href="#p" x="370.6" y="147.2"/>
<use href="#p" x="212.5" y="133.6"/>
<use href="#p" x="260.9" y="134.9"/>
<use href="#p" x="350.1" y="146.8"/>
<use href="#p" x="242.7" y="135.9"/>
<use href="#p" x="250.9" y="135.3"/>
<use href="#p" x="377.9" y="153.7"/>
<use href="#p" x="232.5" y="134.8"/>
<use href="#p" x="226.1" y="134.9"/>
<use href="#p" x="348.1" y="145.3"/>
<use href="#p" x="156.4" y="132.4"/>
<use href="#p" x="373.4" y="141.3"/>
<use href="#p" x="283.9" y="138.1"/>
<use href="#p" x="386.9" y="151.3"/>
<use href="#p" x="272.1" y="138.1"/>
<use href="#p" x="214.8" y="133.4"/>
<use href="#p" x="150.8" y="132.6"/>
<use href="#p" x="319.5" y="138.5"/>
<use href="#p" x="346.6" y="141.6"/>
<use href="#p" x="295.2" y="138.2"/>
<use href="#p" x="267.1" y="138.1"/>
<use href="#p" x="255.8" y="136.2"/>
<use href="#p" x="258.5" y="135.9"/>
<use href="#p" x="342.4" y="140.7"/>
<use href="#p" x="171.5" y="132.5"/>
<use href="#p" x="232.6" y="133.9"/>
<use href="#p" x="338.8" y="148.8"/>
<use href="#p" x="431.9" y="151.8"/>
<use href="#p" x="379.8" y="147.3"/>
<use href="#p" x="238.1" y="135.1"/>
<use href="#p" x="393.9" y="147.9"/>
<use href="#p" x="228.7" y="133.8"/>
<use href="#p" x="318.8" y="144.1"/>
<use href="#p" x="306.0" y="138.6"/>
<use href="#p" x="276.8" y="137.8"/>
<use href="#p" x="399.6" y="157.3"/>
<use href="#p" x="414.4" y="147.9"/>
<use href="#p" x="294.1" y="138.8"/>
<use href="#p" x="357.7" y="148.7"/>
<use href="#p" x="399.9" y="162.5"/>
<use href="#p" x="253.7" y="134.5"/>
<use href="#p" x="401.4" y="157.1"/>
<use href="#p" x="309.9" y="140.6"/>
<use href="#p" x="319.3" y="137.7"/>
<use href="#p" x="339.9" y="141.6"/>
<use href="#p" x="239.6" y="134.3"/>
<use href="#p" x="162.6" y="132.9"/>
<use href="#p" x="399.9" y="153.6"/>
<use href="#p" x="205.8" y="133.9"/>
<use href="#p" x="450.2" y="167.1"/>
<use href="#p" x="207.1" y="132.5"/>
<use href="#p" x="397.4" y="148.2"/>
<use href="#p" x="198.9" y="132.9"/>
<use href="#p" x="304.1" y="137.8"/>
<use href="#p" x="346.2" y="144.6"/>
<use href="#p" x="279.2" y="138.1"/>
<use href="#p" x="360.4" y="140.3"/>
<use href="#p" x="364.3" y="146.6"/>
<use href="#p" x="342.8" y="138.1"/>
<use href="#p" x="333.4" y="141.9"/>
<use href="#p" x="313.3" y="136.7"/>
<use href="#p" x="326.6" y="139.4"/>
<use href="#p" x="334.4" y="142.0"/>
<use href="#p" x="281.4" y="139.2"/>
<use href="#p" x="193.6" y="133.3"/>
<use href="#p" x="233.4" y="132.8"/>
<use href="#p" x="479.2" y="172.4"/>
<use href="#p" x="407.8" y="156.7"/>
<use href="#p" x="412.8" y="157.1"/>
<use href="#p" x="404.3" y="154.6"/>
<use href="#p" x="209.3" y="133.0"/>
<use href="#p" x="210.6" y="133.1"/>
<use href="#p" x="393.7" y="154.6"/>
<use href="#p" x="357.7" y="151.9"/>
<use href="#p" x="422.0" y="161.5"/>
<use href="#p" x="191.7" y="132.5"/>
<use href="#p" x="336.4" y="139.4"/>
<use href="#p" x="340.8" y="140.4"/>
<use href="#p" x="289.4" y="138.8"/>
<use href="#p" x="319.9" y="140.0"/>
<use href="#p" x="361.7" y="141.9"/>
<use href="#p" x="234.7" y="134.5"/>
<use href="#p" x="251.7" y="133.7"/>
<use href="#p" x="274.7" y="138.3"/>
<use href="#p" x="327.1" y="141.3"/>
<use href="#p" x="375.7" y="148.6"/>
<use href="#p" x="420.5" y="160.1"/>
<use href="#p" x="184.3" y="132.6"/>
<use href="#p" x="284.5" y="139.8"/>
<use href="#p" x="239.4" y="134.2"/>
<use href="#p" x="252.9" y="135.0"/>
<use href="#p" x="189.7" y="133.6"/>
<use href="#p" x="205.2" y="133.0"/>
<use href="#p" x="202.7" y="133.9"/>
<use href="#p" x="219.7" y="132.9"/>
<use href="#p" x="413.3" y="163.3"/>
<use href="#p" x="406.6" y="156.2"/>
<use href="#p" x="188.8" y="133.4"/>
<use href="#p" x="265.0" y="135.6"/>
<use href="#p" x="397.7" y="157.4"/>
<use href="#p" x="290.8" y="135.9"/>
<use href="#p" x="317.0" y="137.8"/>
<use href="#p" x="356.0" y="147.3"/>
<use href="#p" x="336.4" y="145.1"/>
<use href="#p" x="345.0" y="139.8"/>
<use href="#p" x="207.5" y="133.6"/>
<use href="#p" x="358.4" y="150.7"/>
<use href="#p" x="350.8" y="146.2"/>
<use href="#p" x="438.1" y="157.0"/>
<use href="#p" x="147.7" y="132.3"/>
<use href="#p" x="340.6" y="137.8"/>
<use href="#p" x="237.5" y="133.9"/>
<use href="#p" x="274.2" y="137.5"/>
<use href="#p" x="394.4" y="151.7"/>
<use href="#p" x="294.1" y="138.1"/>
<use href="#p" x="351.5" y="143.0"/>
<use href="#p" x="197.7" y="133.1"/>
<use href="#p" x="162.9" y="132.5"/>
<use href="#p" x="371.6" y="152.8"/>
<use href="#p" x="234.8" y="135.8"/>
<use href="#p" x="250.7" y="136.9"/>
<use href="#p" x="281.5" y="136.0"/>
<use href="#p" x="349.9" y="143.9"/>
<use href="#p" x="350.7" y="149.2"/>
<use href="#p" x="267.9" y="137.9"/>
<use href="#p" x="307.0" y="135.6"/>
<use href="#p" x="395.0" y="150.8"/>
<use href="#p" x="284.3" y="136.4"/>
<use href="#p" x="403.4" y="165.9"/>
<use href="#p" x="371.2" y="147.8"/>
<use href="#p" x="162.3" y="132.4"/>
<use href="#p" x="232.8" y="134.9"/>
<use href="#p" x="236.4" y="134.0"/>
<use href="#p" x="354.6" y="150.6"/>
<use href="#p" x="249.4" y="135.9"/>
<use href="#p" x="328.1" y="140.7"/>
<use href="#p" x="421.2" y="166.5"/>
<use href="#p" x="277.1" y="137.4"/>
<use href="#p" x="202.3" y="133.8"/>
<use href="#p" x="364.8" y="146.3"/>
<use href="#p" x="338.0" y="137.5"/>
<use href="#p" x="250.7" y="136.1"/>
<use href="#p" x="431.3" y="164.0"/>
<use href="#p" x="325.5" y="140.8"/>
<use href="#p" x="333.3" y="144.7"/>
<use href="#p" x="329.0" y="142.4"/>
<use href="#p" x="202.1" y="133.6"/>
<use href="#p" x="161.3" y="132.2"/>
<use href="#p" x="195.7" y="133.8"/>
<use href="#p" x="335.0" y="146.4"/>
<use href="#p" x="333.1" y="138.5"/>
<use href="#p" x="331.9" y="140.7"/>
<use href="#p" x="208.8" y="133.7"/>
<use href="#p" x="328.9" y="143.2"/>
<use href="#p" x="360.5" y="149.3"/>
<use href="#p" x="405.4" y="164.5"/>
<use href="#p" x="231.5" y="134.3"/>
<use href="#p" x="340.3" y="144.1"/>
<use href="#p" x="186.8" y="133.5"/>
<use href="#p" x="337.4" y="140.1"/>
<use href="#p" x="250.3" y="134.7"/>
<use href="#p" x="392.5" y="148.4"/>
<use href="#p" x="223.5" y="133.4"/>
<use href="#p" x="377.0" y="155.6"/>
<use href="#p" x="329.5" y="136.7"/>
<use href="#p" x="282.1" y="139.0"/>
<use href="#p" x="223.3" y="133.2"/>
<use href="#p" x="216.8" y="134.4"/>
<use href="#p" x="179.2" y="132.7"/>
<use href="#p" x="130.8" y="132.1"/>
<use href="#p" x="187.0" y="133.1"/>
<use href="#p" x="316.2" y="139.9"/>
<use href="#p" x="241.4" y="133.8"/>
<use href="#p" x="359.9" y="142.5"/>
<use href="#p" x="378.2" y="149.0"/>
<use href="#p" x="429.5" y="160.1"/>
<use href="#p" x="461.2" y="166.1"/>
<use href="#p" x="363.8" y="144.2"/>
<use href="#p" x="231.1" y="133.8"/>
<use href="#p" x="327.4" y="140.0"/>
<use href="#p" x="455.4" y="185.1"/>
<use href="#p" x="426.3" y="160.6"/>
<use href="#p" x="131.1" y="132.1"/>
<use href="#p" x="274.5" y="138.6"/>
<use href="#p" x="415.3" y="149.9"/>
<use href="#p" x="325.1" y="139.8"/>
<use href="#p" x="320.9" y="138.3"/>
<use href="#p" x="386.6" y="143.8"/>
<use href="#p" x="187.1" y="133.3"/>
<use href="#p" x="409.7" y="151.4"/>
<use href="#p" x="242.2" y="133.2"/>
<use href="#p" x="193.8" y="132.8"/>
<use href="#p" x="420.4" y="149.1"/>
<use href="#p" x="379.1" y="154.5"/>
<use href="#p" x="195.5" y="133.0"/>
<use href="#p" x="242.3" y="135.2"/>
<use href="#p" x="219.4" y="133.6"/>
<use href="#p" x="377.6" y="151.4"/>
<use href="#p" x="306.7" y="136.2"/>
<use href="#p" x="180.7" y="132.3"/>
<use href="#p" x="353.0" y="145.0"/>
<use href="#p" x="216.8" y="133.9"/>
<use href="#p" x="285.6" y="136.8"/>
<use href="#p" x="326.5" y="142.0"/>
<use href="#p" x="199.5" y="133.3"/>
<use href="#p" x="393.6" y="151.6"/>
<use href="#p" x="271.9" y="136.8"/>
<use href="#p" x="252.3" y="133.8"/>
<use href="#p" x="281.5" y="135.7"/>
<use href="#p" x="346.8" y="143.2"/>
<use href="#p" x="351.6" y="144.1"/>
<use href="#p" x="180.0" y="132.5"/>
<use href="#p" x="226.1" y="133.7"/>
<use href="#p" x="347.2" y="142.2"/>
<use href="#p" x="259.5" y="135.2"/>
<use href="#p" x="198.6" y="133.4"/>
<use href="#p" x="429.2" y="168.9"/>
<use href="#p" x="343.4" y="142.8"/>
<use href="#p" x="339.1" y="140.4"/>
<use href="#p" x="241.4" y="133.3"/>
<use href="#p" x="419.4" y="162.6"/>
<use href="#p" x="441.6" y="168.4"/>
<use href="#p" x="189.9" y="132.7"/>
<use href="#p" x="433.4" y="171.0"/>
<use href="#p" x="252.3" y="136.2"/>
<use href="#p" x="129.1" y="132.2"/>
<use href="#p" x="186.3" y="132.5"/>
<use href="#p" x="204.5" y="132.9"/>
<use href="#p" x="269.9" y="134.4"/>
<use href="#p" x="388.5" y="157.9"/>
<use href="#p" x="409.1" y="157.8"/>
<use href="#p" x="400.8" y="150.7"/>
<use href="#p" x="265.1" y="134.8"/>
<use href="#p" x="349.8" y="150.6"/>
<use href="#p" x="258.4" y="135.2"/>
<use href="#p" x="233.8" y="134.2"/>
<use href="#p" x="408.7" y="153.0"/>
<use href="#p" x="194.5" y="132.9"/>
<use href="#p" x="256.2" y="134.7"/>
<use href="#p" x="335.0" y="140.0"/>
<use href="#p" x="223.4" y="133.4"/>
<use href="#p" x="469.0" y="178.7"/>
<use href="#p" x="325.5" y="137.6"/>
<use href="#p" x="335.2" y="147.7"/>
<use href="#p" x="368.4" y="148.8"/>
<use href="#p" x="174.7" y="132.7"/>
<use href="#p" x="230.3" y="133.4"/>
<use href="#p" x="407.2" y="151.7"/>
<use href="#p" x="404.9" y="150.8"/>
<use href="#p" x="313.8" y="140.4"/>
<use href="#p" x="319.3" y="143.0"/>
<use href="#p" x="192.9" y="132.9"/>
<use href="#p" x="167.7" y="132.1"/>
<use href="#p" x="231.5" y="132.9"/>
<use href="#p" x="193.4" y="133.1"/>
<use href="#p" x="244.4" y="135.7"/>
<use href="#p" x="399.5" y="153.3"/>
<use href="#p" x="456.0" y="176.6"/>
<use href="#p" x="252.3" y="135.9"/>
<use href="#p" x="290.6" y="139.8"/>
<use href="#p" x="369.4" y="145.9"/>
<use href="#p" x="467.1" y="164.8"/>
<use href="#p" x="429.6" y="172.4"/>
<use href="#p" x="257.7" y="133.9"/>
<use href="#p" x="398.9" y="155.5"/>
<use href="#p" x="392.0" y="146.6"/>
<use href="#p" x="332.8" y="145.0"/>
<use href="#p" x="384.4" y="150.2"/>
<use href="#p" x="148.0" y="132.2"/>
<use href="#p" x="281.2" y="136.0"/>
<use href="#p" x="453.3" y="167.2"/>
<use href="#p" x="248.6" y="133.8"/>
<use href="#p" x="257.5" y="134.2"/>
<use href="#p" x="448.7" y="163.0"/>
<use href="#p" x="427.6" y="155.6"/>
<use href="#p" x="334.6" y="145.7"/>
<use href="#p" x="277.3" y="137.3"/>
<use href="#p" x="318.8" y="142.2"/>
<use href="#p" x="206.2" y="133.4"/>
<use href="#p" x="474.9" y="178.2"/>
<use href="#p" x="333.6" y="143.8"/>
<use href="#p" x="417.0" y="163.6"/>
<use href="#p" x="405.6" y="156.8"/>
<use href="#p" x="367.3" y="143.6"/>
<use href="#p" x="404.2" y="160.2"/>
<use href="#p" x="271.3" y="135.0"/>
<use href="#p" x="362.4" y="147.7"/>
<use href="#p" x="279.1" y="137.9"/>
<use href="#p" x="179.2" y="132.2"/>
<use href="#p" x="329.1" y="142.2"/>
<use href="#p" x="252.7" y="136.7"/>
<use href="#p" x="353.3" y="142.5"/>
<use href="#p" x="391.4" y="161.3"/>
<use href="#p" x="291.0" y="141.2"/>
<use href="#p" x="312.6" y="142.9"/>
<use href="#p" x="343.1" y="141.8"/>
<use href="#p" x="237.2" y="134.8"/>
<use href="#p" x="233.1" y="133.1"/>
<use href="#p" x="442.3" y="166.8"/>
<use href="#p" x="255.0" y="134.6"/>
<use href="#p" x="390.1" y="153.9"/>
<use href="#p" x="242.6" y="133.5"/>
<use href="#p" x="249.6" y="133.5"/>
<use href="#p" x="280.2" y="137.2"/>
<use href="#p" x="221.9" y="132.8"/>
<use href="#p" x="372.9" y="147.9"/>
<use href="#p" x="222.8" y="133.4"/>
<use href="#p" x="280.3" y="139.2"/>
<use href="#p" x="158.2" y="132.5"/>
<use href="#p" x="384.4" y="149.6"/>
<use href="#p" x="234.6" y="135.7"/>
<use href="#p" x="366.0" y="141.6"/>
<use href="#p" x="298.0" y="138.7"/>
<use href="#p" x="273.3" y="136.0"/>
<use href="#p" x="374.4" y="146.3"/>
<use href="#p" x="454.1" y="162.5"/>
<use href="#p" x="225.1" y="133.1"/>
<use href="#p" x="263.3" y="134.7"/>
<use href="#p" x="335.9" y="143.6"/>
<use href="#p" x="303.4" y="134.4"/>
<use href="#p" x="172.3" y="132.7"/>
<use href="#p" x="205.8" y="133.1"/>
<use href="#p" x="185.3" y="132.6"/>
<use href="#p" x="484.9" y="193.2"/>
<use href="#p" x="422.6" y="161.5"/>
<use href="#p" x="314.3" y="135.9"/>
<use href="#p" x="345.3" y="140.1"/>
<use href="#p" x="305.6" y="136.2"/>
<use href="#p" x="147.4" y="132.5"/>
<use href="#p" x="361.1" y="149.3"/>
<use href="#p" x="303.3" y="134.5"/>
<use href="#p" x="279.1" y="138.1"/>
<use href="#p" x="261.7" y="134.5"/>
<use href="#p" x="424.1" y="162.7"/>
<use href="#p" x="226.9" y="134.4"/>
<use href="#p" x="285.1" y="136.4"/>
<use href="#p" x="494.4" y="199.8"/>
<use href="#p" x="426.6" y="152.5"/>
<use href="#p" x="293.4" y="138.4"/>
<use href="#p" x="382.8" y="149.6"/>
<use href="#p" x="468.2" y="172.2"/>
<use href="#p" x="359.6" y="141.6"/>
<use href="#p" x="167.6" y="132.4"/>
<use href="#p" x="376.2" y="146.4"/>
<use href="#p" x="199.0" y="133.3"/>
<use href="#p" x="303.5" y="140.3"/>
<use href="#p" x="374.9" y="145.6"/>
<use href="#p" x="341.6" y="146.8"/>
<use href="#p" x="302.4" y="139.4"/>
<use href="#p" x="327.0" y="143.7"/>
<use href="#p" x="292.3" y="136.2"/>
<use href="#p" x="355.2" y="144.7"/>
<use href="#p" x="214.9" y="133.2"/>
<use href="#p" x="237.6" y="133.9"/>
<use href="#p" x="249.2" y="134.7"/>
<use href="#p" x="297.0" y="135.5"/>
<use href="#p" x="199.9" y="132.9"/>
<use href="#p" x="308.4" y="141.2"/>
<use href="#p" x="420.8" y="160.8"/>
<use href="#p" x="261.8" y="136.9"/>
<use href="#p" x="444.8" y="168.6"/>
<use href="#p" x="341.7" y="147.3"/>
<use href="#p" x="285.5" y="135.8"/>
<use href="#p" x="373.1" y="144.9"/>
<use href="#p" x="240.5" y="135.0"/>
<use href="#p" x="287.4" y="136.6"/>
<use href="#p" x="247.3" y="133.4"/>
<use href="#p" x="242.2" y="134.6"/>
<use href="#p" x="423.2" y="158.6"/>
<use href="#p" x="391.5" y="148.1"/>
<use href="#p" x="368.1" y="148.9"/>
<use href="#p" x="159.7" y="132.3"/>
<use href="#p" x="369.8" y="147.3"/>
<use href="#p" x="402.8" y="152.3"/>
<use href="#p" x="256.0" y="134.9"/>
<use href="#p" x="280.2" y="136.4"/>
<use href="#p" x="413.7" y="160.4"/>
<use href="#p" x="242.3" y="133.3"/>
<use href="#p" x="345.9" y="142.9"/>
<use href="#p" x="277.5" y="135.3"/>
<use href="#p" x="441.1" y="176.2"/>
<use href="#p" x="324.7" y="146.3"/>
<use href="#p" x="251.1" y="134.6"/>
<use href="#p" x="259.8" y="137.4"/>
<use href="#p" x="406.5" y="161.9"/>
<use href="#p" x="292.6" y="139.4"/>
<use href="#p" x="253.6" y="134.4"/>
<use href="#p" x="232.7" y="134.9"/>
<use href="#p" x="233.7" y="133.8"/>
<use href="#p" x="354.4" y="150.1"/>
<use href="#p" x="243.4" y="134.3"/>
<use href="#p" x="253.9" y="134.1"/>
<use href="#p" x="380.2" y="151.3"/>
<use href="#p" x="348.3" y="146.6"/>
<use href="#p" x="220.2" y="134.4"/>
<use href="#p" x="414.5" y="157.0"/>
<use href="#p" x="215.2" y="133.2"/>
<use href="#p" x="347.8" y="143.1"/>
<use href="#p" x="299.3" y="138.5"/>
<use href="#p" x="257.9" y="133.9"/>
<use href="#p" x="336.3" y="143.1"/>
<use href="#p" x="175.0" y="132.8"/>
<use href="#p" x="323.0" y="150.0"/>
<use href="#p" x="436.1" y="160.3"/>
<use href="#p" x="304.9" y="137.9"/>
<use href="#p" x="375.3" y="149.1"/>
<use href="#p" x="325.8" y="136.6"/>
<use href="#p" x="375.4" y="155.0"/>
<use href="#p" x="184.0" y="132.5"/>
<use href="#p" x="396.8" y="159.8"/>
<use href="#p" x="241.8" y="135.7"/>
<use href="#p" x="401.0" y="154.3"/>
<use href="#p" x="283.5" y="137.4"/>
<use href="#p" x="182.5" y="132.9"/>
<use href="#p" x="296.1" y="139.7"/>
<use href="#p" x="335.2" y="138.4"/>
<use href="#p" x="363.1" y="148.6"/>
<use href="#p" x="355.0" y="150.3"/>
<use href="#p" x="413.8" y="161.6"/>
<use href="#p" x="205.2" y="133.4"/>
<use href="#p" x="176.6" y="132.3"/>
<use href="#p" x="235.6" y="133.5"/>
<use href="#p" x="411.2" y="153.6"/>
<use href="#p" x="510.3" y="200.2"/>
<use href="#p" x="229.7" y="134.2"/>
<use href="#p" x="200.0" y="133.8"/>
<use href="#p" x="300.8" y="140.3"/>
<use href="#p" x="226.3" y="134.2"/>
<use href="#p" x="241.0" y="134.6"/>
<use href="#p" x="300.6" y="134.8"/>
<use href="#p" x="205.3" y="133.7"/>
<use href="#p" x="248.8" y="134.7"/>
<use href="#p" x="212.0" y="133.9"/>
<use href="#p" x="235.7" y="134.8"/>
<use href="#p" x="411.6" y="157.1"/>
<use href="#p" x="278.7" y="136.9"/>
<use href="#p" x="214.7" y="133.2"/>
<use href="#p" x="344.6" y="149.7"/>
<use href="#p" x="307.7" y="136.6"/>
<use href="#p" x="515.5" y="198.0"/>
<use href="#p" x="372.5" y="149.6"/>
<use href="#p" x="495.5" y="190.8"/>
<use href="#p" x="385.1" y="155.3"/>
<use href="#p" x="407.4" y="163.5"/>
<use href="#p" x="218.2" y="134.0"/>
<use href="#p" x="391.7" y="154.4"/>
<use href="#p" x="334.4" y="142.4"/>
<use href="#p" x="223.5" y="132.6"/>
<use href="#p" x="269.2" y="137.1"/>
<use href="#p" x="167.9" y="132.6"/>
<use href="#p" x="323.3" y="140.6"/>
<use href="#p" x="201.6" y="132.4"/>
<use href="#p" x="346.7" y="147.7"/>
<use href="#p" x="328.3" y="140.8"/>
<use href="#p" x="173.3" y="132.4"/>
<use href="#p" x="218.2" y="133.0"/>
<use href="#p" x="382.8" y="146.9"/>
<use href="#p" x="148.2" y="132.2"/>
<use href="#p" x="214.3" y="134.4"/>
<use href="#p" x="268.6" y="137.5"/>
<use href="#p" x="385.1" y="151.5"/>
<use href="#p" x="331.8" y="141.4"/>
<use href="#p" x="407.3" y="157.7"/>
<use href="#p" x="442.5" y="153.4"/>
<use href="#p" x="403.5" y="150.2"/>
<use href="#p" x="306.6" y="136.1"/>
<use href="#p" x="290.6" y="137.7"/>
<use href="#p" x="386.4" y="158.9"/>
<use href="#p" x="419.9" y="166.7"/>
<use href="#p" x="137.4" y="132.3"/>
<use href="#p" x="349.1" y="144.7"/>
<use href="#p" x="383.7" y="153.3"/>
<use href="#p" x="191.6" y="133.4"/>
<use href="#p" x="410.0" y="163.4"/>
<use href="#p" x="310.0" y="135.1"/>
<use href="#p" x="319.8" y="138.0"/>
<use href="#p" x="266.1" y="134.8"/>
<use href="#p" x="275.4" y="137.8"/>
<use href="#p" x="188.1" y="132.9"/>
<use href="#p" x="372.8" y="142.0"/>
<use href="#p" x="191.4" y="132.4"/>
<use href="#p" x="424.2" y="155.7"/>
<use href="#p" x="432.9" y="155.9"/>
<use href="#p" x="326.9" y="138.9"/>
<use href="#p" x="306.8" y="137.5"/>
<use href="#p" x="369.5" y="150.4"/>
<use href="#p" x="405.7" y="156.2"/>
<use href="#p" x="406.3" y="155.9"/>
<use href="#p" x="218.3" y="133.5"/>
<use href="#p" x="309.2" y="138.3"/>
<use href="#p" x="252.1" y="135.0"/>
<use href="#p" x="252.9" y="134.1"/>
<use href="#p" x="371.9" y="148.5"/>
<use href="#p" x="503.1" y="199.8"/>
<use href="#p" x="238.6" y="133.9"/>
<use href="#p" x="254.9" y="136.8"/>
<use href="#p" x="298.5" y="140.9"/>
<use href="#p" x="362.0" y="151.3"/>
<use href="#p" x="256.9" y="136.3"/>
<use href="#p" x="194.9" y="133.0"/>
<use href="#p" x="297.0" y="135.2"/>
<use href="#p" x="240.2" y="135.8"/>
<use href="#p" x="257.5" y="134.5"/>
<use href="#p" x="235.8" y="135.2"/>
<use href="#p" x="326.7" y="145.7"/>
<use href="#p" x="341.2" y="148.7"/>
<use href="#p" x="182.4" y="133.2"/>
<use href="#p" x="350.7" y="142.8"/>
<use href="#p" x="419.5" y="165.5"/>
<use href="#p" x="318.5" y="142.9"/>
<use href="#p" x="380.5" y="150.9"/>
<use href="#p" x="446.8" y="171.4"/>
<use href="#p" x="118.9" y="131.9"/>
<use href="#p" x="198.2" y="132.9"/>
<use href="#p" x="163.8" y="132.8"/>
<use href="#p" x="255.8" y="136.8"/>
<use href="#p" x="302.2" y="135.2"/>
<use href="#p" x="308.6" y="136.1"/>
<use href="#p" x="420.6" y="161.1"/>
<use href="#p" x="431.8" y="170.4"/>
<use href="#p" x="366.7" y="151.9"/>
<use href="#p" x="361.7" y="146.4"/>
<use href="#p" x="203.1" y="133.6"/>
<use href="#p" x="119.9" y="132.0"/>
<use href="#p" x="290.4" y="136.1"/>
<use href="#p" x="288.6" y="137.9"/>
<use href="#p" x="257.1" y="133.6"/>
<use href="#p" x="276.0" y="136.7"/>
<use href="#p" x="297.1" y="139.6"/>
<use href="#p" x="243.6" y="135.3"/>
<use href="#p" x="287.2" y="138.4"/>
<use href="#p" x="410.8" y="163.3"/>
<use href="#p" x="437.0" y="164.4"/>
<use href="#p" x="355.1" y="144.1"/>
<use href="#p" x="293.6" y="136.5"/>
<use href="#p" x="307.1" y="140.8"/>
<use href="#p" x="453.3" y="165.3"/>
<use href="#p" x="472.9" y="179.4"/>
<use href="#p" x="231.5" y="134.7"/>
<use href="#p" x="279.8" y="137.0"/>
<use href="#p" x="447.9" y="170.3"/>
<use href="#p" x="449.8" y="174.7"/>
<use href="#p" x="321.9" y="142.5"/>
<use href="#p" x="405.2" y="159.7"/>
<use href="#p" x="298.4" y="136.5"/>
<use href="#p" x="435.4" y="155.8"/>
<use href="#p" x="147.8" y="132.0"/>
<use href="#p" x="391.6" y="154.5"/>
<use href="#p" x="282.3" y="135.5"/>
<use href="#p" x="178.3" y="133.2"/>
<use href="#p" x="205.0" y="133.8"/>
<use href="#p" x="381.5" y="150.5"/>
<use href="#p" x="408.3" y="159.3"/>
<use href="#p" x="264.6" y="135.1"/>
<use href="#p" x="329.0" y="139.9"/>
<use href="#p" x="239.2" y="133.7"/>
<use href="#p" x="469.3" y="175.5"/>
<use href="#p" x="376.4" y="156.9"/>
<use href="#p" x="175.2" y="132.5"/>
<use href="#p" x="193.9" y="133.6"/>
<use href="#p" x="436.4" y="178.1"/>
<use href="#p" x="207.8" y="133.3"/>
<use href="#p" x="354.0" y="148.5"/>
<use href="#p" x="285.8" y="138.5"/>
<use href="#p" x="356.7" y="150.6"/>
<use href="#p" x="463.1" y="182.2"/>
<use href="#p" x="366.3" y="148.5"/>
<use href="#p" x="192.7" y="133.0"/>
<use href="#p" x="335.9" y="144.0"/>
<use href="#p" x="230.1" y="135.1"/>
<use href="#p" x="272.6" y="136.0"/>
<use href="#p" x="393.1" y="151.4"/>
<use href="#p" x="340.1" y="142.8"/>
<use href="#p" x="218.0" y="134.0"/>
<use href="#p" x="325.1" y="141.8"/>
<use href="#p" x="279.6" y="135.1"/>
<use href="#p" x="249.9" y="137.2"/>
<use href="#p" x="303.0" y="137.9"/>
<use href="#p" x="334.3" y="143.3"/>
<use href="#p" x="399.8" y="152.5"/>
<use href="#p" x="221.2" y="134.8"/>
<use href="#p" x="360.1" y="141.2"/>
<use href="#p" x="328.1" y="139.0"/>
<use href="#p" x="279.5" y="136.0"/>
<use href="#p" x="382.2" y="150.3"/>
<use href="#p" x="376.9" y="146.8"/>
<use href="#p" x="457.7" y="174.4"/>
<use href="#p" x="270.6" y="136.8"/>
<use href="#p" x="372.2" y="152.7"/>
<use href="#p" x="443.2" y="168.3"/>
<use href="#p" x="239.5" y="135.7"/>
<use href="#p" x="273.3" y="136.1"/>
<use href="#p" x="279.7" y="136.0"/>
<use href="#p" x="362.2" y="145.0"/>
<use href="#p" x="290.3" y="134.9"/>
<use href="#p" x="336.0" y="146.7"/>
<use href="#p" x="273.4" y="135.2"/>
<use href="#p" x="273.3" y="136.8"/>
<use href="#p" x="329.5" y="138.2"/>
<use href="#p" x="172.7" y="132.2"/>
<use href="#p" x="247.7" y="135.6"/>
<use href="#p" x="265.7" y="135.5"/>
<use href="#p" x="292.2" y="136.3"/>
<use href="#p" x="233.3" y="134.6"/>
<use href="#p" x="201.9" y="133.9"/>
<use href="#p" x="206.4" y="132.5"/>
<use href="#p" x="172.3" y="132.6"/>
<use href="#p" x="365.5" y="145.2"/>
<use href="#p" x="360.3" y="142.2"/>
<use href="#p" x="421.7" y="157.7"/>
<use href="#p" x="298.3" y="134.7"/>
<use href="#p" x="253.2" y="137.2"/>
<use href="#p" x="234.9" y="133.0"/>
<use href="#p" x="277.4" y="135.3"/>
<use href="#p" x="232.9" y="132.8"/>
<use href="#p" x="186.1" y="132.7"/>
<use href="#p" x="249.2" y="136.7"/>
<use href="#p" x="373.5" y="152.3"/>
<use href="#p" x="197.0" y="133.1"/>
<use href="#p" x="280.6" y="136.2"/>
<use href="#p" x="302.9" y="135.4"/>
<use href="#p" x="185.3" y="133.1"/>
<use href="#p" x="382.6" y="152.1"/>
<use href="#p" x="333.8" y="141.6"/>
<use href="#p" x="245.5" y="135.5"/>
<use href="#p" x="355.4" y="149.9"/>
<use href="#p" x="194.8" y="132.8"/>
<use href="#p" x="341.2" y="141.3"/>
<use href="#p" x="197.9" y="132.8"/>
<use href="#p" x="197.6" y="133.1"/>
<use href="#p" x="449.0" y="169.8"/>
<use href="#p" x="318.6" y="140.9"/>
<use href="#p" x="379.7" y="146.7"/>
<use href="#p" x="123.0" y="132.1"/>
<use href="#p" x="253.1" y="133.8"/>
<use href="#p" x="389.4" y="143.3"/>
<use href="#p" x="235.8" y="133.9"/>
<use href="#p" x="415.7" y="168.7"/>
<use href="#p" x="293.6" y="135.6"/>
<use href="#p" x="444.4" y="177.2"/>
<use href="#p" x="190.2" y="133.0"/>
<use href="#p" x="356.0" y="149.0"/>
<use href="#p" x="301.4" y="142.5"/>
<use href="#p" x="219.3" y="134.1"/>
<use href="#p" x="300.9" y="134.7"/>
<use href="#p" x="254.8" y="134.7"/>
<use href="#p" x="307.1" y="134.6"/>
<use href="#p" x="388.8" y="160.8"/>
<use href="#p" x="327.2" y="136.5"/>
<use href="#p" x="250.3" y="135.5"/>
<use href="#p" x="343.2" y="142.0"/>
<use href="#p" x="198.4" y="133.1"/>
<use href="#p" x="214.3" y="133.4"/>
<use href="#p" x="214.8" y="132.7"/>
<use href="#p" x="172.2" y="132.7"/>
<use href="#p" x="452.6" y="173.2"/>
<use href="#p" x="300.7" y="137.1"/>
<use href="#p" x="331.5" y="137.1"/>
<use href="#p" x="411.6" y="154.6"/>
<use href="#p" x="287.3" y="134.7"/>
<use href="#p" x="259.3" y="134.4"/>
<use href="#p" x="416.6" y="159.7"/>
<use href="#p" x="338.5" y="142.7"/>
<use href="#p" x="323.6" y="138.0"/>
<use href="#p" x="331.7" y="140.7"/>
<use href="#p" x="260.3" y="135.0"/>
<use href="#p" x="305.8" y="136.3"/>
<use href="#p" x="289.0" y="138.1"/>
<use href="#p" x="158.3" y="132.4"/>
<use href="#p" x="236.9" y="133.8"/>
<use href="#p" x="164.0" y="132.6"/>
<use href="#p" x="302.4" y="135.6"/>
<use href="#p" x="302.3" y="136.8"/>
<use href="#p" x="318.2" y="138.2"/>
<use href="#p" x="300.2" y="134.7"/>
<use href="#p" x="370.0" y="149.6"/>
<use href="#p" x="383.8" y="144.9"/>
<use href="#p" x="221.1" y="133.7"/>
<use href="#p" x="376.2" y="145.1"/>
<use href="#p" x="184.9" y="132.8"/>
<use href="#p" x="373.0" y="151.9"/>
<use href="#p" x="290.9" y="138.7"/>
<use href="#p" x="295.4" y="138.9"/>
<use href="#p" x="314.0" y="136.6"/>
<use href="#p" x="287.2" y="138.8"/>
<use href="#p" x="417.5" y="157.1"/>
<use href="#p" x="249.7" y="134.3"/>
<use href="#p" x="292.6" y="139.7"/>
<use href="#p" x="224.3" y="133.9"/>
<use href="#p" x="319.1" y="135.5"/>
<use href="#p" x="257.3" y="135.1"/>
<use href="#p" x="186.8" y="133.3"/>
<use href="#p" x="311.8" y="143.0"/>
<use href="#p" x="268.0" y="138.3"/>
<use href="#p" x="360.4" y="146.1"/>
<use href="#p" x="199.6" y="133.1"/>
<use href="#p" x="304.3" y="141.2"/>
<use href="#p" x="409.5" y="152.6"/>
<use href="#p" x="307.6" y="142.1"/>
<use href="#p" x="477.9" y="165.9"/>
<use href="#p" x="405.9" y="158.2"/>
<use href="#p" x="370.2" y="143.4"/>
<use href="#p" x="273.2" y="137.5"/>
<use href="#p" x="287.1" y="137.2"/>
<use href="#p" x="216.5" y="134.5"/>
<use href="#p" x="452.3" y="175.0"/>
<use href="#p" x="240.2" y="134.1"/>
<use href="#p" x="340.3" y="141.6"/>
<use href="#p" x="375.7" y="143.5"/>
<use href="#p" x="339.7" y="141.6"/>
<use href="#p" x="265.3" y="135.3"/>
<use href="#p" x="306.9" y="139.3"/>
<use href="#p" x="419.3" y="148.9"/>
<use href="#p" x="274.4" y="137.2"/>
<use href="#p" x="365.8" y="148.6"/>
<use href="#p" x="348.4" y="139.9"/>
<use href="#p" x="187.5" y="132.7"/>
<use href="#p" x="229.5" y="133.6"/>
<use href="#p" x="261.7" y="134.1"/>
<use href="#p" x="183.8" y="132.5"/>
<use href="#p" x="264.2" y="135.7"/>
<use href="#p" x="230.3" y="134.0"/>
<use href="#p" x="355.8" y="148.8"/>
<use href="#p" x="290.1" y="141.1"/>
<use href="#p" x="227.1" y="133.9"/>
<use href="#p" x="334.9" y="144.5"/>
<use href="#p" x="412.6" y="152.9"/>
<use href="#p" x="117.6" y="131.7"/>
<use href="#p" x="239.4" y="134.6"/>
<use href="#p" x="400.6" y="150.1"/>
<use href="#p" x="185.2" y="132.4"/>
<use href="#p" x="215.3" y="133.8"/>
<use href="#p" x="379.1" y="151.4"/>
<use href="#p" x="492.4" y="186.8"/>
<use href="#p" x="204.3" y="132.9"/>
<use href="#p" x="279.3" y="139.7"/>
<use href="#p" x="167.9" y="132.3"/>
<use href="#p" x="337.8" y="145.1"/>
<use href="#p" x="308.7" y="137.9"/>
<use href="#p" x="444.4" y="162.6"/>
<use href="#p" x="238.3" y="136.0"/>
<use href="#p" x="396.7" y="144.5"/>
<use href="#p" x="340.6" y="145.7"/>
<use href="#p" x="413.5" y="161.6"/>
<use href="#p" x="221.4" y="133.0"/>
<use href="#p" x="181.8" y="132.4"/>
<use href="#p" x="223.3" y="134.7"/>
<use href="#p" x="323.4" y="141.9"/>
<use href="#p" x="379.6" y="145.1"/>
<use href="#p" x="248.0" y="135.9"/>
<use href="#p" x="296.4" y="133.8"/>
<use href="#p" x="240.0" y="135.1"/>
<use href="#p" x="381.0" y="145.5"/>
<use href="#p" x="452.9" y="173.7"/>
<use href="#p" x="299.9" y="138.6"/>
<use href="#p" x="277.0" y="135.5"/>
<use href="#p" x="362.7" y="148.7"/>
<use href="#p" x="253.7" y="134.6"/>
<use href="#p" x="407.4" y="157.9"/>
<use href="#p" x="379.7" y="151.9"/>
<use href="#p" x="346.2" y="145.8"/>
<use href="#p" x="292.0" y="141.0"/>
<use href="#p" x="219.7" y="133.2"/>
<use href="#p" x="288.5" y="136.9"/>
<use href="#p" x="308.2" y="134.5"/>
<use href="#p" x="245.1" y="134.7"/>
<use href="#p" x="234.0" y="134.0"/>
<use href="#p" x="434.9" y="162.7"/>
<use href="#p" x="341.4" y="142.9"/>
<use href="#p" x="141.0" y="132.2"/>
<use href="#p" x="446.0" y="161.5"/>
<use href="#p" x="410.7" y="157.0"/>
<use href="#p" x="348.6" y="144.1"/>
<use href="#p" x="234.3" y="135.7"/>
<use href="#p" x="488.2" y="191.0"/>
<use href="#p" x="237.2" y="133.7"/>
<use href="#p" x="142.6" y="132.0"/>
<use href="#p" x="236.4" y="133.9"/>
<use href="#p" x="190.1" y="132.9"/>
<use href="#p" x="289.1" y="140.5"/>
<use href="#p" x="184.7" y="132.6"/>
<use href="#p" x="211.4" y="133.6"/>
<use href="#p" x="119.5" y="131.9"/>
<use href="#p" x="258.1" y="135.9"/>
<use href="#p" x="271.2" y="137.7"/>
<use href="#p" x="150.1" y="132.4"/>
<use href="#p" x="192.7" y="132.8"/>
<use href="#p" x="341.6" y="145.6"/>
<use href="#p" x="381.4" y="148.4"/>
<use href="#p" x="390.4" y="149.7"/>
<use href="#p" x="302.2" y="139.8"/>
<use href="#p" x="302.6" y="139.6"/>
<use href="#p" x="381.9" y="150.3"/>
<use href="#p" x="289.2" y="138.5"/>
<use href="#p" x="353.5" y="145.8"/>
<use href="#p" x="281.8" y="134.2"/>
<use href="#p" x="400.0" y="151.1"/>
<use href="#p" x="289.4" y="136.6"/>
<use href="#p" x="132.1" y="132.1"/>
<use href="#p" x="347.1" y="148.9"/>
<use href="#p" x="199.5" y="133.3"/>
<use href="#p" x="370.2" y="148.5"/>
<use href="#p" x="348.2" y="139.7"/>
<use href="#p" x="244.3" y="134.6"/>
<use href="#p" x="426.7" y="171.5"/>
<use href="#p" x="260.1" y="134.1"/>
<use href="#p" x="332.9" y="141.6"/>
<use href="#p" x="412.5" y="158.8"/>
<use href="#p" x="267.1" y="136.6"/>
<use href="#p" x="471.7" y="173.8"/>
<use href="#p" x="281.3" y="140.3"/>
<use href="#p" x="317.2" y="142.7"/>
<use href="#p" x="275.5" y="136.6"/>
<use href="#p" x="444.0" y="168.8"/>
<use href="#p" x="229.2" y="134.5"/>
<use href="#p" x="339.8" y="144.3"/>
<use href="#p" x="191.1" y="132.3"/>
<use href="#p" x="316.4" y="143.4"/>
<use href="#p" x="411.0" y="158.1"/>
<use href="#p" x="273.3" y="139.0"/>
<use href="#p" x="281.2" y="137.1"/>
<use href="#p" x="213.8" y="134.2"/>
<use href="#p" x="409.3" y="156.5"/>
<use href="#p" x="199.3" y="132.5"/>
<use href="#p" x="208.5" y="133.3"/>
<use href="#p" x="277.6" y="136.8"/>
<use href="#p" x="336.4" y="141.3"/>
<use href="#p" x="216.2" y="132.7"/>
<use href="#p" x="154.2" y="132.2"/>
<use href="#p" x="399.0" y="156.0"/>
<use href="#p" x="433.8" y="165.7"/>
<use href="#p" x="191.7" y="133.1"/>
<use href="#p" x="451.4" y="183.3"/>
<use href="#p" x="374.1" y="147.9"/>
<use href="#p" x="448.6" y="175.3"/>
<use href="#p" x="370.2" y="145.3"/>
<use href="#p" x="456.4" y="169.6"/>
<use href="#p" x="285.9" y="136.3"/>
<use href="#p" x="316.9" y="135.6"/>
<use href="#p" x="354.3" y="143.1"/>
<use href="#p" x="340.5" y="147.4"/>
<use href="#p" x="177.4" y="132.9"/>
<use href="#p" x="409.0" y="155.5"/>
<use href="#p" x="255.1" y="134.5"/>
<use href="#p" x="221.2" y="134.0"/>
<use href="#p" x="219.2" y="134.3"/>
<use href="#p" x="406.9" y="155.0"/>
<use href="#p" x="327.9" y="140.7"/>
<use href="#p" x="413.8" y="156.6"/>
<use href="#p" x="234.5" y="135.8"/>
<use href="#p" x="481.8" y="189.5"/>
<use href="#p" x="207.3" y="132.9"/>
<use href="#p" x="291.7" y="136.0"/>
<use href="#p" x="247.4" y="135.3"/>
<use href="#p" x="345.9" y="138.5"/>
<use href="#p" x="268.2" y="137.0"/>
<use href="#p" x="305.6" y="135.6"/>
<use href="#p" x="245.9" y="135.4"/>
<use href="#p" x="280.1" y="136.3"/>
<use href="#p" x="436.1" y="164.9"/>
<use href="#p" x="360.8" y="148.2"/>
<use href="#p" x="388.4" y="151.4"/>
<use href="#p" x="191.8" y="133.2"/>
<use href="#p" x="344.0" y="142.7"/>
<use href="#p" x="371.1" y="143.3"/>
<use href="#p" x="261.3" y="135.0"/>
<use href="#p" x="399.6" y="155.3"/>
<use href="#p" x="388.4" y="151.3"/>
<use href="#p" x="249.2" y="136.4"/>
<use href="#p" x="214.6" y="133.8"/>
<use href="#p" x="375.4" y="152.5"/>
<use href="#p" x="387.7" y="147.4"/>
<use href="#p" x="241.9" y="135.9"/>
<use href="#p" x="179.1" y="132.5"/>
<use href="#p" x="471.5" y="179.2"/>
<use href="#p" x="392.1" y="160.2"/>
<use href="#p" x="444.6" y="170.4"/>
<use href="#p" x="339.2" y="143.0"/>
<use href="#p" x="373.4" y="146.0"/>
<use href="#p" x="378.4" y="149.4"/>
<use href="#p" x="398.7" y="157.1"/>
<use href="#p" x="397.4" y="154.3"/>
<use href="#p" x="214.7" y="133.7"/>
<use href="#p" x="291.6" y="140.7"/>
<use href="#p" x="306.9" y="141.0"/>
<use href="#p" x="381.7" y="144.9"/>
<use href="#p" x="342.8" y="144.2"/>
<use href="#p" x="395.1" y="151.4"/>
<use href="#p" x="293.3" y="140.7"/>
<use href="#p" x="263.6" y="135.4"/>
<use href="#p" x="294.9" y="136.2"/>
<use href="#p" x="348.4" y="142.4"/>
<use href="#p" x="195.5" y="132.8"/>
<use href="#p" x="329.2" y="139.7"/>
<use href="#p" x="204.9" y="133.1"/>
<use href="#p" x="306.1" y="135.4"/>
<use href="#p" x="345.8" y="145.0"/>
<use href="#p" x="510.0" y="197.5"/>
<use href="#p" x="279.7" y="135.0"/>
<use href="#p" x="158.5" y="132.7"/>
<use href="#p" x="379.4" y="142.2"/>
<use href="#p" x="353.3" y="145.4"/>
<use href="#p" x="274.3" y="138.8"/>
<use href="#p" x="212.2" y="132.9"/>
<use href="#p" x="220.8" y="133.0"/>
<use href="#p" x="245.1" y="136.0"/>
<use href="#p" x="306.3" y="138.3"/>
<use href="#p" x="222.8" y="133.5"/>
<use href="#p" x="195.0" y="133.3"/>
<use href="#p" x="376.9" y="149.3"/>
<use href="#p" x="269.6" y="137.1"/>
<use href="#p" x="404.6" y="149.7"/>
<use href="#p" x="271.3" y="138.4"/>
<use href="#p" x="389.2" y="158.2"/>
<use href="#p" x="292.3" y="137.5"/>
<use href="#p" x="279.8" y="137.9"/>
<use href="#p" x="187.3" y="133.1"/>
<use href="#p" x="270.9" y="136.1"/>
<use href="#p" x="145.8" y="132.2"/>
<use href="#p" x="204.0" y="133.6"/>
<use href="#p" x="258.4" y="137.5"/>
<use href="#p" x="348.1" y="138.8"/>
<use href="#p" x="324.6" y="139.1"/>
<use href="#p" x="336.7" y="141.5"/>
<use href="#p" x="225.0" y="134.3"/>
<use href="#p" x="289.3" y="139.5"/>
<use href="#p" x="252.1" y="133.5"/>
<use href="#p" x="396.4" y="159.0"/>
<use href="#p" x="181.6" y="132.9"/>
<use href="#p" x="351.1" y="140.3"/>
<use href="#p" x="181.3" y="132.7"/>
<use href="#p" x="395.0" y="155.4"/>
<use href="#p" x="285.4" y="140.2"/>
<use href="#p" x="207.2" y="132.8"/>
<use href="#p" x="317.7" y="138.6"/>
<use href="#p" x="370.5" y="155.1"/>
<use href="#p" x="378.4" y="151.6"/>
<use href="#p" x="208.0" y="133.6"/>
<use href="#p" x="346.4" y="142.9"/>
<use href="#p" x="174.3" y="132.7"/>
<use href="#p" x="407.4" y="154.3"/>
<use href="#p" x="340.3" y="144.2"/>
<use href="#p" x="383.0" y="151.3"/>
<use href="#p" x="264.7" y="136.8"/>
<use href="#p" x="227.3" y="134.9"/>
<use href="#p" x="323.7" y="143.5"/>
<use href="#p" x="328.1" y="146.7"/>
<use href="#p" x="394.3" y="148.2"/>
<use href="#p" x="327.9" y="142.7"/>
<use href="#p" x="273.8" y="137.4"/>
<use href="#p" x="413.4" y="153.4"/>
<use href="#p" x="246.0" y="133.3"/>
<use href="#p" x="441.0" y="147.9"/>
<use href="#p" x="210.5" y="133.6"/>
<use href="#p" x="263.9" y="134.2"/>
<use href="#p" x="406.7" y="158.6"/>
<use href="#p" x="228.3" y="133.7"/>
<use href="#p" x="264.7" y="136.9"/>
<use href="#p" x="396.6" y="146.6"/>
<use href="#p" x="428.9" y="146.4"/>
<use href="#p" x="190.4" y="132.7"/>
<use href="#p" x="293.6" y="140.8"/>
<use href="#p" x="180.1" y="132.8"/>
<use href="#p" x="319.2" y="141.6"/>
<use href="#p" x="303.9" y="135.6"/>
<use href="#p" x="288.0" y="138.0"/>
<use href="#p" x="255.4" y="136.5"/>
<use href="#p" x="381.0" y="146.3"/>
<use href="#p" x="304.8" y="136.2"/>
<use href="#p" x="404.1" y="150.6"/>
<use href="#p" x="354.1" y="144.5"/>
<use href="#p" x="501.9" y="198.7"/>
<use href="#p" x="120.6" y="131.9"/>
<use href="#p" x="296.5" y="138.0"/>
<use href="#p" x="326.3" y="144.2"/>
<use href="#p" x="328.6" y="139.1"/>
<use href="#p" x="450.3" y="164.8"/>
<use href="#p" x="346.2" y="142.8"/>
<use href="#p" x="180.3" y="133.1"/>
<use href="#p" x="284.6" y="136.6"/>
<use href="#p" x="270.5" y="135.2"/>
<use href="#p" x="412.2" y="151.7"/>
<use href="#p" x="241.9" y="133.9"/>
<use href="#p" x="373.0" y="148.4"/>
<use href="#p" x="353.6" y="144.1"/>
<use href="#p" x="286.0" y="135.5"/>
<use href="#p" x="313.2" y="142.2"/>
<use href="#p" x="454.9" y="165.3"/>
<use href="#p" x="223.6" y="133.8"/>
<use href="#p" x="396.7" y="154.1"/>
<use href="#p" x="353.2" y="146.8"/>
<use href="#p" x="285.3" y="134.9"/>
<use href="#p" x="335.5" y="138.9"/>
<use href="#p" x="327.3" y="136.8"/>
<use href="#p" x="356.1" y="145.6"/>
<use href="#p" x="397.4" y="152.1"/>
<use href="#p" x="229.1" y="135.0"/>
<use href="#p" x="227.9" y="132.9"/>
<use href="#p" x="445.6" y="177.9"/>
<use href="#p" x="329.1" y="137.7"/>
<use href="#p" x="357.5" y="144.3"/>
<use href="#p" x="213.0" y="133.4"/>
<use href="#p" x="199.1" y="133.4"/>
<use href="#p" x="386.3" y="154.1"/>
<use href="#p" x="299.0" y="134.9"/>
<use href="#p" x="233.8" y="133.7"/>
<use href="#p" x="171.8" y="132.3"/>
<use href="#p" x="384.9" y="153.2"/>
<use href="#p" x="270.2" y="137.4"/>
<use href="#p" x="197.0" y="133.2"/>
<use href="#p" x="503.2" y="196.2"/>
<use href="#p" x="311.3" y="142.8"/>
<use href="#p" x="335.6" y="145.2"/>
<use href="#p" x="210.2" y="133.3"/>
<use href="#p" x="305.1" y="138.2"/>
<use href="#p" x="365.7" y="140.7"/>
<use href="#p" x="218.2" y="133.5"/>
<use href="#p" x="189.0" y="132.8"/>
<use href="#p" x="279.6" y="136.0"/>
<use href="#p" x="207.0" y="133.2"/>
<use href="#p" x="378.9" y="143.3"/>
<use href="#p" x="289.9" y="139.9"/>
<use href="#p" x="280.3" y="139.9"/>
<use href="#p" x="324.1" y="141.7"/>
<use href="#p" x="191.6" y="132.8"/>
<use href="#p" x="363.6" y="150.9"/>
<use href="#p" x="376.9" y="148.8"/>
<use href="#p" x="446.6" y="167.4"/>
<use href="#p" x="442.4" y="168.8"/>
<use href="#p" x="416.8" y="156.1"/>
<use href="#p" x="374.3" y="150.8"/>
<use href="#p" x="310.9" y="138.0"/>
<use href="#p" x="253.9" y="136.9"/>
<use href="#p" x="410.1" y="151.4"/>
<use href="#p" x="428.7" y="160.9"/>
<use href="#p" x="382.8" y="146.9"/>
<use href="#p" x="365.7" y="147.0"/>
<use href="#p" x="462.5" y="170.0"/>
<use href="#p" x="209.8" y="134.2"/>
<use href="#p" x="218.0" y="134.0"/>
<use href="#p" x="201.2" y="132.8"/>
<use href="#p" x="375.0" y="151.6"/>
<use href="#p" x="305.1" y="136.7"/>
<use href="#p" x="394.4" y="153.9"/>
<use href="#p" x="395.0" y="151.6"/>
<use href="#p" x="228.3" y="134.7"/>
<use href="#p" x="278.6" y="135.6"/>
<use href="#p" x="366.1" y="147.7"/>
<use href="#p" x="382.4" y="155.5"/>
<use href="#p" x="446.3" y="157.7"/>
<use href="#p" x="388.2" y="151.5"/>
<use href="#p" x="175.4" y="132.4"/>
<use href="#p" x="396.9" y="154.5"/>
<use href="#p" x="339.6" y="145.1"/>
<use href="#p" x="189.7" y="133.3"/>
<use href="#p" x="350.5" y="146.7"/>
<use href="#p" x="373.8" y="147.8"/>
<use href="#p" x="203.1" y="133.3"/>
<use href="#p" x="332.0" y="138.4"/>
<use href="#p" x="323.7" y="138.7"/>
<use href="#p" x="303.2" y="139.4"/>
<use href="#p" x="189.1" y="132.4"/>
<use href="#p" x="392.8" y="151.4"/>
<use href="#p" x="420.7" y="172.3"/>
<use href="#p" x="425.1" y="167.0"/>
<use href="#p" x="287.1" y="139.1"/>
<use href="#p" x="415.6" y="160.6"/>
<use href="#p" x="142.6" y="132.3"/>
<use href="#p" x="284.3" y="134.7"/>
<use href="#p" x="216.0" y="134.4"/>
<use href="#p" x="273.7" y="135.6"/>
<use href="#p" x="361.2" y="145.2"/>
<use href="#p" x="214.7" y="133.3"/>
<use href="#p" x="203.3" y="134.0"/>
<use href="#p" x="294.8" y="141.4"/>
<use href="#p" x="363.1" y="150.2"/>
<use href="#p" x="164.9" y="132.4"/>
<use href="#p" x="235.4" y="135.4"/>
<use href="#p" x="174.6" y="132.8"/>
<use href="#p" x="440.1" y="153.5"/>
<use href="#p" x="334.9" y="142.1"/>
<use href="#p" x="334.8" y="144.1"/>
<use href="#p" x="393.0" y="162.2"/>
<use href="#p" x="230.4" y="134.3"/>
<use href="#p" x="257.6" y="137.4"/>
<use href="#p" x="340.5" y="141.4"/>
<use href="#p" x="313.6" y="142.2"/>
<use href="#p" x="384.2" y="154.2"/>
<use href="#p" x="442.2" y="163.5"/>
<use href="#p" x="409.2" y="155.6"/>
<use href="#p" x="258.4" y="135.9"/>
<use href="#p" x="181.2" y="132.8"/>
<use href="#p" x="305.1" y="139.1"/>
<use href="#p" x="323.2" y="144.4"/>
<use href="#p" x="347.3" y="145.2"/>
<use href="#p" x="316.9" y="137.9"/>
<use href="#p" x="289.7" y="136.7"/>
<use href="#p" x="252.6" y="135.2"/>
<use href="#p" x="354.1" y="147.4"/>
<use href="#p" x="508.3" y="202.5"/>
<use href="#p" x="194.4" y="132.5"/>
<use href="#p" x="360.8" y="147.6"/>
<use href="#p" x="439.8" y="165.6"/>
<use href="#p" x="218.7" y="132.8"/>
<use href="#p" x="495.8" y="189.3"/>
<use href="#p" x="195.1" y="132.9"/>
<use href="#p" x="411.2" y="163.1"/>
<use href="#p" x="368.5" y="148.9"/>
<use href="#p" x="378.6" y="157.5"/>
<use href="#p" x="329.2" y="138.2"/>
<use href="#p" x="205.7" y="132.7"/>
<use href="#p" x="252.4" y="136.3"/>
<use href="#p" x="415.3" y="156.0"/>
<use href="#p" x="355.7" y="144.0"/>
<use href="#p" x="214.8" y="133.7"/>
<use href="#p" x="412.6" y="158.5"/>
<use href="#p" x="410.5" y="164.4"/>
<use href="#p" x="363.4" y="150.6"/>
<use href="#p" x="362.2" y="150.3"/>
<use href="#p" x="171.7" y="132.6"/>
<use href="#p" x="375.0" y="149.1"/>
<use href="#p" x="257.8" y="134.5"/>
<use href="#p" x="368.3" y="148.0"/>
<use href="#p" x="458.3" y="150.9"/>
<use href="#p" x="175.6" y="132.2"/>
<use href="#p" x="265.3" y="135.4"/>
<use href="#p" x="349.7" y="145.4"/>
<use href="#p" x="464.9" y="165.9"/>
<use href="#p" x="273.5" y="136.5"/>
<use href="#p" x="438.7" y="166.5"/>
<use href="#p" x="337.0" y="143.4"/>
<use href="#p" x="350.5" y="140.5"/>
<use href="#p" x="295.0" y="139.5"/>
<use href="#p" x="223.0" y="133.5"/>
<use href="#p" x="152.4" y="132.6"/>
<use href="#p" x="295.6" y="138.5"/>
<use href="#p" x="440.8" y="174.7"/>
<use href="#p" x="387.9" y="155.0"/>
<use href="#p" x="400.5" y="150.3"/>
<use href="#p" x="233.4" y="135.1"/>
<use href="#p" x="291.5" y="137.4"/>
<use href="#p" x="281.6" y="137.1"/>
<use href="#p" x="430.0" y="154.0"/>
<use href="#p" x="261.6" y="133.9"/>
<use href="#p" x="331.0" y="151.5"/>
<use href="#p" x="424.9" y="173.8"/>
<use href="#p" x="334.7" y="140.1"/>
<use href="#p" x="258.8" y="137.3"/>
<use href="#p" x="185.5" y="132.5"/>
<use href="#p" x="287.0" y="137.7"/>
<use href="#p" x="195.4" y="133.3"/>
<use href="#p" x="410.5" y="163.2"/>
<use href="#p" x="227.0" y="133.1"/>
<use href="#p" x="220.9" y="133.2"/>
<use href="#p" x="397.3" y="158.8"/>
<use href="#p" x="286.9" y="139.5"/>
<use href="#p" x="375.2" y="149.3"/>
<use href="#p" x="429.0" y="156.7"/>
<use href="#p" x="158.2" y="132.3"/>
<use href="#p" x="511.0" y="199.5"/>
<use href="#p" x="364.5" y="148.4"/>
<use href="#p" x="303.4" y="135.7"/>
<use href="#p" x="385.2" y="153.9"/>
<use href="#p" x="203.2" y="133.5"/>
<use href="#p" x="375.7" y="155.2"/>
<use href="#p" x="336.8" y="140.2"/>
<use href="#p" x="280.8" y="137.7"/>
<use href="#p" x="199.0" y="133.9"/>
<use href="#p" x="253.2" y="133.9"/>
<use href="#p" x="337.6" y="144.9"/>
<use href="#q" x="190.7" y="134.7"/>
<use href="#q" x="296.2" y="150.4"/>
<use href="#q" x="167.2" y="133.6"/>
<use href="#q" x="322.0" y="176.7"/>
<use href="#q" x="233.1" y="135.3"/>
<use href="#q" x="275.5" y="147.2"/>
<use href="#q" x="271.7" y="137.9"/>
<use href="#q" x="135.5" y="132.9"/>
<use href="#q" x="292.8" y="142.6"/>
<use href="#q" x="288.0" y="141.5"/>
<use href="#q" x="302.9" y="145.7"/>
<use href="#q" x="122.8" y="132.9"/>
<use href="#q" x="196.7" y="135.4"/>
<use href="#q" x="170.7" y="133.9"/>
<use href="#q" x="187.7" y="134.5"/>
<use href="#q" x="172.4" y="133.8"/>
<use href="#q" x="276.3" y="152.4"/>
<use href="#q" x="140.9" y="133.7"/>
<use href="#q" x="136.3" y="133.0"/>
<use href="#q" x="278.6" y="147.1"/>
<use href="#q" x="173.1" y="133.8"/>
<use href="#q" x="223.7" y="135.4"/>
<use href="#q" x="153.3" y="133.8"/>
<use href="#q" x="266.5" y="137.6"/>
<use href="#q" x="163.7" y="133.6"/>
<use href="#q" x="252.1" y="137.4"/>
<use href="#q" x="323.2" y="184.8"/>
<use href="#q" x="303.6" y="146.0"/>
<use href="#q" x="322.1" y="176.4"/>
<use href="#q" x="302.8" y="156.5"/>
<use href="#q" x="176.7" y="133.9"/>
<use href="#q" x="257.9" y="135.9"/>
<use href="#q" x="296.4" y="145.1"/>
<use href="#q" x="188.9" y="134.3"/>
<use href="#q" x="207.7" y="135.0"/>
<use href="#q" x="277.1" y="152.6"/>
<use href="#q" x="253.8" y="136.1"/>
<use href="#q" x="296.7" y="150.4"/>
<use href="#q" x="157.4" y="134.0"/>
<use href="#q" x="192.3" y="134.2"/>
<use href="#q" x="221.3" y="135.3"/>
<use href="#q" x="201.4" y="134.8"/>
<use href="#q" x="303.4" y="153.2"/>
<use href="#q" x="133.8" y="132.9"/>
<use href="#q" x="181.4" y="134.0"/>
<use href="#q" x="198.4" y="134.8"/>
<use href="#q" x="309.9" y="168.0"/>
<use href="#q" x="222.3" y="135.3"/>
<use href="#q" x="326.0" y="186.1"/>
<use href="#q" x="249.1" y="138.2"/>
<use href="#q" x="271.9" y="142.3"/>
<use href="#q" x="254.4" y="140.4"/>
<use href="#q" x="210.5" y="135.7"/>
<use href="#q" x="228.8" y="137.3"/>
<use href="#q" x="227.5" y="137.4"/>
<use href="#q" x="265.9" y="136.6"/>
<use href="#q" x="310.0" y="163.4"/>
<use href="#q" x="233.9" y="139.1"/>
<use href="#q" x="131.8" y="133.1"/>
<use href="#q" x="195.8" y="134.5"/>
<use href="#q" x="148.7" y="133.4"/>
<use href="#q" x="165.1" y="133.9"/>
<use href="#q" x="295.8" y="144.9"/>
<use href="#q" x="191.3" y="134.3"/>
<use href="#q" x="312.5" y="172.8"/>
<use href="#q" x="225.9" y="140.9"/>
<use href="#q" x="268.7" y="136.9"/>
<use href="#q" x="230.0" y="139.7"/>
<use href="#q" x="171.6" y="134.0"/>
<use href="#q" x="244.2" y="137.6"/>
<use href="#q" x="251.0" y="140.2"/>
<use href="#q" x="165.9" y="133.5"/>
<use href="#q" x="271.6" y="138.6"/>
<use href="#q" x="216.3" y="135.7"/>
<use href="#q" x="264.9" y="136.7"/>
<use href="#q" x="309.7" y="158.3"/>
<use href="#q" x="184.8" y="134.3"/>
<use href="#q" x="290.6" y="145.9"/>
<use href="#q" x="296.9" y="144.6"/>
<use href="#q" x="289.4" y="144.6"/>
<use href="#q" x="286.6" y="140.4"/>
<use href="#q" x="225.7" y="139.7"/>
<use href="#q" x="327.0" y="183.7"/>
<use href="#q" x="221.4" y="135.0"/>
<use href="#q" x="304.5" y="150.1"/>
<use href="#q" x="296.5" y="154.1"/>
<use href="#q" x="143.6" y="133.3"/>
<use href="#q" x="223.9" y="135.8"/>
<use href="#q" x="202.2" y="135.4"/>
<use href="#q" x="310.7" y="171.1"/>
<use href="#q" x="312.3" y="166.8"/>
<use href="#q" x="326.9" y="182.0"/>
<use href="#q" x="294.7" y="147.3"/>
<use href="#q" x="189.1" y="135.6"/>
<use href="#q" x="193.6" y="134.3"/>
<use href="#q" x="227.8" y="135.1"/>
<use href="#q" x="280.7" y="142.5"/>
<use href="#q" x="219.1" y="135.4"/>
<use href="#q" x="166.2" y="133.9"/>
<use href="#q" x="326.0" y="186.0"/>
<use href="#q" x="198.2" y="135.1"/>
<use href="#q" x="213.3" y="134.7"/>
<use href="#q" x="271.1" y="140.6"/>
<use href="#q" x="204.1" y="134.6"/>
<use href="#q" x="172.2" y="133.7"/>
<use href="#q" x="129.0" y="133.4"/>
<use href="#q" x="124.3" y="132.9"/>
<use href="#q" x="283.1" y="145.1"/>
<use href="#q" x="277.6" y="146.2"/>
<use href="#q" x="268.8" y="140.1"/>
<use href="#q" x="242.2" y="140.0"/>
<use href="#q" x="241.3" y="136.5"/>
<use href="#q" x="209.6" y="134.9"/>
<use href="#q" x="133.3" y="132.9"/>
<use href="#q" x="245.4" y="135.6"/>
<use href="#q" x="208.3" y="134.7"/>
<use href="#q" x="285.5" y="146.3"/>
<use href="#q" x="206.6" y="134.9"/>
<use href="#q" x="238.3" y="137.1"/>
<use href="#q" x="224.9" y="135.0"/>
<use href="#q" x="148.5" y="133.2"/>
<use href="#q" x="207.0" y="134.5"/>
<use href="#q" x="307.7" y="162.7"/>
<use href="#q" x="175.4" y="133.8"/>
<use href="#q" x="164.4" y="133.7"/>
<use href="#q" x="268.0" y="139.0"/>
<use href="#q" x="143.3" y="133.4"/>
<use href="#q" x="297.2" y="144.1"/>
<use href="#q" x="211.1" y="134.8"/>
<use href="#q" x="309.2" y="163.2"/>
<use href="#q" x="153.1" y="133.6"/>
<use href="#q" x="145.5" y="133.6"/>
<use href="#q" x="261.1" y="138.8"/>
<use href="#q" x="305.5" y="146.3"/>
<use href="#q" x="246.1" y="136.0"/>
<use href="#q" x="200.0" y="134.4"/>
<use href="#q" x="151.7" y="133.9"/>
<use href="#q" x="225.4" y="138.5"/>
<use href="#q" x="325.2" y="185.7"/>
<use href="#q" x="156.8" y="133.9"/>
<use href="#q" x="202.3" y="134.5"/>
<use href="#q" x="280.8" y="143.7"/>
<use href="#q" x="273.7" y="140.6"/>
<use href="#q" x="256.8" y="136.0"/>
<use href="#q" x="164.2" y="134.0"/>
<use href="#q" x="154.8" y="133.5"/>
<use href="#q" x="147.1" y="133.2"/>
<use href="#q" x="249.7" y="135.8"/>
<use href="#q" x="302.1" y="146.3"/>
<use href="#q" x="124.6" y="133.1"/>
<use href="#q" x="288.9" y="141.0"/>
<use href="#q" x="277.3" y="148.3"/>
<use href="#q" x="270.4" y="146.5"/>
<use href="#q" x="208.4" y="135.3"/>
<use href="#q" x="295.5" y="143.2"/>
<use href="#q" x="254.6" y="143.6"/>
<use href="#q" x="131.4" y="132.9"/>
<use href="#q" x="236.5" y="135.8"/>
<use href="#q" x="128.3" y="133.1"/>
<use href="#q" x="158.8" y="133.9"/>
<use href="#q" x="308.1" y="161.8"/>
<use href="#q" x="162.2" y="133.6"/>
<use href="#q" x="222.9" y="135.5"/>
<use href="#q" x="169.0" y="133.8"/>
<use href="#q" x="199.8" y="135.0"/>
<use href="#q" x="190.7" y="134.4"/>
<use href="#q" x="234.8" y="139.9"/>
<use href="#q" x="308.6" y="160.1"/>
<use href="#q" x="125.3" y="132.9"/>
<use href="#q" x="189.7" y="134.5"/>
<use href="#q" x="255.7" y="135.9"/>
<use href="#q" x="164.9" y="133.8"/>
<use href="#q" x="309.2" y="164.2"/>
<use href="#q" x="250.2" y="138.2"/>
<use href="#q" x="195.0" y="134.5"/>
<use href="#q" x="280.7" y="139.3"/>
<use href="#q" x="258.0" y="136.5"/>
<use href="#q" x="205.0" y="135.1"/>
<use href="#q" x="241.7" y="135.9"/>
<use href="#q" x="206.6" y="135.2"/>
<use href="#q" x="326.7" y="180.8"/>
<use href="#q" x="240.4" y="135.9"/>
<use href="#q" x="281.6" y="151.6"/>
<use href="#q" x="311.7" y="165.2"/>
<use href="#q" x="265.1" y="136.8"/>
<use href="#q" x="219.2" y="135.8"/>
<use href="#q" x="289.6" y="141.2"/>
<use href="#q" x="307.0" y="150.9"/>
<use href="#q" x="174.7" y="133.8"/>
<use href="#q" x="126.4" y="132.9"/>
<use href="#q" x="254.0" y="137.2"/>
<use href="#q" x="211.3" y="135.7"/>
<use href="#q" x="287.1" y="146.9"/>
<use href="#q" x="325.8" y="181.6"/>
<use href="#q" x="248.6" y="139.6"/>
<use href="#q" x="277.3" y="138.5"/>
<use href="#q" x="279.9" y="140.7"/>
<use href="#q" x="284.8" y="140.4"/>
<use href="#q" x="284.8" y="142.3"/>
<use href="#q" x="276.1" y="145.1"/>
<use href="#q" x="272.7" y="140.4"/>
<use href="#q" x="195.3" y="134.7"/>
<use href="#q" x="181.0" y="133.8"/>
<use href="#q" x="262.8" y="140.4"/>
<use href="#q" x="226.4" y="137.0"/>
<use href="#q" x="138.6" y="133.2"/>
<use href="#q" x="125.1" y="133.0"/>
<use href="#q" x="301.1" y="144.9"/>
<use href="#q" x="149.5" y="133.7"/>
<use href="#q" x="263.3" y="137.6"/>
<use href="#q" x="183.8" y="134.3"/>
<use href="#q" x="229.6" y="135.7"/>
<use href="#q" x="156.2" y="133.8"/>
<use href="#q" x="277.9" y="152.9"/>
<use href="#q" x="287.3" y="146.2"/>
<use href="#q" x="300.0" y="151.6"/>
<use href="#q" x="274.9" y="151.8"/>
<use href="#q" x="173.6" y="133.9"/>
<use href="#q" x="197.4" y="134.6"/>
<use href="#q" x="210.2" y="134.9"/>
<use href="#q" x="149.4" y="133.3"/>
<use href="#q" x="122.8" y="133.0"/>
<use href="#q" x="236.9" y="139.9"/>
<use href="#q" x="205.6" y="134.7"/>
<use href="#q" x="187.3" y="134.4"/>
<use href="#q" x="152.7" y="133.7"/>
<use href="#q" x="261.5" y="140.1"/>
<use href="#q" x="209.9" y="135.0"/>
<use href="#q" x="255.0" y="145.2"/>
<use href="#q" x="126.4" y="132.9"/>
<use href="#q" x="328.3" y="185.7"/>
<use href="#q" x="325.2" y="178.2"/>
<use href="#q" x="200.4" y="134.7"/>
<use href="#q" x="239.4" y="139.8"/>
<use href="#q" x="296.9" y="157.0"/>
<use href="#q" x="327.9" y="183.5"/>
<use href="#q" x="213.8" y="135.7"/>
<use href="#q" x="269.9" y="141.5"/>
<use href="#q" x="232.5" y="139.7"/>
<use href="#q" x="291.6" y="141.8"/>
<use href="#q" x="276.7" y="148.8"/>
<use href="#q" x="158.3" y="133.5"/>
<use href="#q" x="205.7" y="134.6"/>
<use href="#q" x="304.5" y="146.0"/>
<use href="#q" x="213.5" y="135.0"/>
<use href="#q" x="178.2" y="133.8"/>
<use href="#q" x="297.3" y="153.2"/>
<use href="#q" x="322.2" y="180.4"/>
<use href="#q" x="307.8" y="156.7"/>
<use href="#q" x="225.0" y="136.1"/>
<use href="#q" x="274.1" y="146.3"/>
<use href="#q" x="231.8" y="135.9"/>
<use href="#q" x="304.0" y="150.5"/>
<use href="#q" x="231.5" y="136.3"/>
<use href="#q" x="176.4" y="133.8"/>
<use href="#q" x="190.4" y="134.4"/>
<use href="#q" x="226.3" y="143.2"/>
<use href="#q" x="153.8" y="133.4"/>
<use href="#q" x="150.5" y="133.6"/>
<use href="#q" x="144.1" y="133.6"/>
<use href="#q" x="225.2" y="135.4"/>
<use href="#q" x="188.1" y="135.3"/>
<use href="#q" x="298.7" y="149.0"/>
<use href="#q" x="270.3" y="147.6"/>
<use href="#q" x="159.8" y="133.5"/>
<use href="#q" x="280.3" y="139.0"/>
<use href="#q" x="235.5" y="135.8"/>
<use href="#q" x="272.3" y="137.7"/>
<use href="#q" x="323.4" y="180.4"/>
<use href="#q" x="224.8" y="135.0"/>
<use href="#q" x="288.2" y="140.9"/>
<use href="#q" x="251.6" y="137.8"/>
<use href="#q" x="236.1" y="138.5"/>
<use href="#q" x="285.6" y="140.1"/>
<use href="#q" x="232.3" y="135.2"/>
<use href="#q" x="300.1" y="147.7"/>
<use href="#q" x="204.0" y="135.1"/>
<use href="#q" x="255.4" y="140.4"/>
<use href="#q" x="192.7" y="135.6"/>
<use href="#q" x="306.5" y="151.2"/>
<use href="#q" x="243.4" y="135.7"/>
<use href="#q" x="274.7" y="138.4"/>
<use href="#q" x="290.1" y="141.3"/>
<use href="#q" x="126.6" y="132.9"/>
<use href="#q" x="297.0" y="149.8"/>
<use href="#q" x="301.9" y="145.0"/>
<use href="#q" x="283.8" y="144.6"/>
<use href="#q" x="215.6" y="134.7"/>
<use href="#q" x="163.2" y="133.5"/>
<use href="#q" x="275.3" y="146.1"/>
<use href="#q" x="253.6" y="135.8"/>
<use href="#q" x="275.9" y="141.5"/>
<use href="#q" x="141.9" y="133.1"/>
<use href="#q" x="210.8" y="134.8"/>
<use href="#q" x="135.9" y="133.5"/>
<use href="#q" x="324.9" y="181.4"/>
<use href="#q" x="198.7" y="134.6"/>
<use href="#q" x="204.7" y="134.7"/>
<use href="#q" x="275.6" y="138.4"/>
<use href="#q" x="309.6" y="167.1"/>
<use href="#q" x="147.0" y="133.6"/>
<use href="#q" x="281.3" y="149.2"/>
<use href="#q" x="135.2" y="132.9"/>
<use href="#q" x="178.1" y="133.8"/>
<use href="#q" x="296.4" y="150.2"/>
<use href="#q" x="257.4" y="140.7"/>
<use href="#q" x="284.7" y="145.2"/>
<use href="#q" x="236.6" y="135.8"/>
<use href="#q" x="175.1" y="133.9"/>
<use href="#q" x="242.6" y="138.1"/>
<use href="#q" x="139.4" y="134.0"/>
<use href="#q" x="170.3" y="133.7"/>
<use href="#q" x="302.7" y="154.4"/>
<use href="#q" x="286.9" y="146.5"/>
<use href="#q" x="262.5" y="139.5"/>
<use href="#q" x="219.7" y="135.0"/>
<use href="#q" x="288.9" y="142.0"/>
<use href="#q" x="143.2" y="133.1"/>
<use href="#q" x="238.1" y="136.9"/>
<use href="#q" x="234.8" y="135.7"/>
<use href="#q" x="214.6" y="135.2"/>
<use href="#q" x="282.5" y="142.8"/>
<use href="#q" x="160.6" y="133.9"/>
<use href="#q" x="184.7" y="134.4"/>
<use href="#q" x="324.3" y="182.7"/>
<use href="#q" x="155.1" y="133.5"/>
<use href="#q" x="209.4" y="134.5"/>
<use href="#q" x="135.1" y="133.3"/>
<use href="#q" x="296.6" y="159.4"/>
<use href="#q" x="293.5" y="148.0"/>
<use href="#q" x="265.2" y="136.8"/>
<use href="#q" x="302.8" y="153.6"/>
<use href="#q" x="183.8" y="134.0"/>
<use href="#q" x="141.0" y="133.5"/>
<use href="#q" x="296.4" y="143.8"/>
<use href="#q" x="328.2" y="182.1"/>
<use href="#q" x="234.5" y="137.8"/>
<use href="#q" x="271.7" y="138.8"/>
<use href="#q" x="178.7" y="134.0"/>
<use href="#q" x="279.0" y="139.6"/>
<use href="#q" x="239.6" y="135.7"/>
<use href="#q" x="279.7" y="139.1"/>
<use href="#q" x="238.6" y="135.3"/>
<use href="#q" x="296.0" y="148.5"/>
<use href="#q" x="269.4" y="137.2"/>
<use href="#q" x="171.4" y="133.7"/>
<use href="#q" x="266.5" y="136.8"/>
<use href="#q" x="185.6" y="134.3"/>
<use href="#q" x="293.6" y="142.6"/>
<use href="#q" x="287.9" y="144.4"/>
<use href="#q" x="136.8" y="133.0"/>
<use href="#q" x="282.7" y="144.0"/>
<use href="#q" x="278.7" y="139.0"/>
<use href="#q" x="142.2" y="133.7"/>
<use href="#q" x="243.0" y="136.6"/>
<use href="#q" x="183.0" y="134.2"/>
<use href="#q" x="136.9" y="133.2"/>
<use href="#q" x="231.1" y="135.3"/>
<use href="#q" x="154.1" y="133.7"/>
<use href="#q" x="141.5" y="133.6"/>
<use href="#q" x="291.9" y="146.8"/>
<use href="#q" x="194.3" y="134.6"/>
<use href="#q" x="212.7" y="135.2"/>
<use href="#q" x="252.8" y="135.9"/>
<use href="#q" x="321.7" y="176.6"/>
<use href="#q" x="226.9" y="135.3"/>
<use href="#q" x="160.0" y="133.7"/>
<use href="#q" x="173.3" y="133.7"/>
<use href="#q" x="222.6" y="135.0"/>
<use href="#q" x="195.8" y="134.6"/>
<use href="#q" x="241.1" y="135.9"/>
<use href="#q" x="217.8" y="135.3"/>
<use href="#q" x="311.8" y="166.8"/>
<use href="#q" x="288.7" y="146.8"/>
<use href="#q" x="183.2" y="134.7"/>
<use href="#q" x="168.3" y="133.9"/>
<use href="#q" x="185.5" y="134.4"/>
<use href="#q" x="123.7" y="133.0"/>
<use href="#q" x="247.5" y="135.9"/>
<use href="#q" x="151.2" y="133.6"/>
<use href="#q" x="299.1" y="151.8"/>
<use href="#q" x="162.3" y="133.7"/>
<use href="#q" x="188.9" y="134.2"/>
<use href="#q" x="263.2" y="136.2"/>
<use href="#q" x="140.4" y="133.4"/>
<use href="#q" x="267.3" y="137.9"/>
<use href="#q" x="169.2" y="134.0"/>
<use href="#q" x="137.8" y="133.0"/>
<use href="#q" x="260.1" y="135.8"/>
<use href="#q" x="271.0" y="138.2"/>
<use href="#q" x="270.7" y="137.3"/>
<use href="#q" x="322.0" y="182.0"/>
<use href="#q" x="245.3" y="135.5"/>
<use href="#q" x="262.2" y="136.4"/>
<use href="#q" x="260.7" y="140.3"/>
<use href="#q" x="311.4" y="175.7"/>
<use href="#q" x="301.3" y="151.7"/>
<use href="#q" x="161.5" y="133.7"/>
<use href="#q" x="150.5" y="133.8"/>
<use href="#q" x="269.7" y="137.1"/>
<use href="#q" x="264.6" y="139.9"/>
<use href="#q" x="241.5" y="136.5"/>
<use href="#q" x="167.6" y="133.7"/>
<use href="#q" x="242.7" y="135.7"/>
<use href="#q" x="159.0" y="133.4"/>
<use href="#q" x="253.9" y="135.6"/>
<use href="#q" x="255.1" y="146.8"/>
<use href="#q" x="139.9" y="133.6"/>
<use href="#q" x="182.3" y="134.1"/>
<use href="#q" x="211.9" y="134.7"/>
<use href="#q" x="281.5" y="139.8"/>
<use href="#q" x="151.8" y="133.4"/>
<use href="#q" x="303.7" y="146.6"/>
<use href="#q" x="302.7" y="150.9"/>
<use href="#q" x="294.6" y="143.2"/>
<use href="#q" x="149.6" y="133.7"/>
<use href="#q" x="146.1" y="133.4"/>
<use href="#q" x="251.9" y="135.7"/>
<use href="#q" x="255.9" y="136.3"/>
<use href="#q" x="309.6" y="165.8"/>
<use href="#q" x="322.3" y="185.1"/>
<use href="#q" x="227.8" y="139.6"/>
<use href="#q" x="146.2" y="134.0"/>
<use href="#q" x="261.0" y="136.2"/>
<use href="#q" x="214.1" y="135.5"/>
<use href="#q" x="226.1" y="135.3"/>
<use href="#q" x="134.3" y="133.0"/>
<use href="#q" x="160.8" y="133.7"/>
<use href="#q" x="200.1" y="134.6"/>
<use href="#q" x="308.8" y="159.8"/>
<use href="#q" x="240.3" y="139.1"/>
<use href="#q" x="266.7" y="140.1"/>
<use href="#q" x="145.2" y="134.0"/>
<use href="#q" x="309.0" y="161.0"/>
<use href="#q" x="325.1" y="178.4"/>
<use href="#q" x="222.0" y="135.6"/>
<use href="#q" x="316.4" y="174.8"/>
<use href="#q" x="317.6" y="176.6"/>
<use href="#q" x="258.6" y="136.1"/>
<use href="#q" x="222.7" y="135.5"/>
<use href="#q" x="129.6" y="133.0"/>
<use href="#q" x="226.9" y="135.4"/>
<use href="#q" x="307.0" y="150.7"/>
<use href="#q" x="254.8" y="136.0"/>
<use href="#q" x="311.8" y="165.7"/>
<use href="#q" x="246.7" y="135.8"/>
<use href="#q" x="148.2" y="133.5"/>
<use href="#q" x="238.0" y="135.5"/>
<use href="#q" x="174.1" y="134.0"/>
<use href="#q" x="229.4" y="135.1"/>
<use href="#q" x="230.5" y="138.9"/>
<use href="#q" x="161.4" y="133.7"/>
<use href="#q" x="219.7" y="135.8"/>
<use href="#q" x="291.1" y="142.2"/>
<use href="#q" x="268.6" y="138.5"/>
<use href="#q" x="321.7" y="175.3"/>
<use href="#q" x="324.2" y="185.4"/>
<use href="#q" x="163.0" y="133.6"/>
<use href="#q" x="259.0" y="136.7"/>
<use href="#q" x="220.5" y="135.3"/>
<use href="#q" x="168.1" y="133.9"/>
<use href="#q" x="220.4" y="135.0"/>
<use href="#q" x="208.8" y="134.6"/>
<use href="#q" x="166.0" y="134.0"/>
<use href="#q" x="177.2" y="133.8"/>
<use href="#q" x="309.4" y="162.8"/>
<use href="#q" x="176.0" y="133.9"/>
<use href="#q" x="296.5" y="145.5"/>
<use href="#q" x="152.3" y="133.5"/>
<use href="#q" x="283.2" y="139.8"/>
<use href="#q" x="313.5" y="168.4"/>
<use href="#q" x="167.6" y="133.9"/>
<use href="#q" x="146.6" y="133.5"/>
<use href="#q" x="316.7" y="176.4"/>
<use href="#q" x="138.4" y="133.0"/>
<use href="#q" x="166.8" y="133.9"/>
<use href="#q" x="248.0" y="137.9"/>
<use href="#q" x="230.4" y="135.4"/>
<use href="#q" x="171.7" y="133.9"/>
<use href="#q" x="179.4" y="133.8"/>
<use href="#q" x="176.6" y="134.0"/>
<use href="#q" x="218.7" y="135.0"/>
<use href="#q" x="296.6" y="152.5"/>
<use href="#q" x="182.9" y="134.5"/>
<use href="#q" x="285.2" y="144.4"/>
<use href="#q" x="326.6" y="182.4"/>
<use href="#q" x="216.5" y="135.3"/>
<use href="#q" x="276.9" y="142.9"/>
<use href="#q" x="272.9" y="142.8"/>
<use href="#q" x="132.6" y="132.9"/>
<use href="#q" x="153.5" y="133.5"/>
<use href="#q" x="284.1" y="139.9"/>
<use href="#q" x="274.2" y="137.9"/>
<use href="#q" x="316.8" y="174.2"/>
<use href="#q" x="184.9" y="135.1"/>
<use href="#q" x="267.5" y="136.9"/>
<use href="#q" x="299.2" y="144.5"/>
<use href="#q" x="157.7" y="133.6"/>
<use href="#q" x="286.0" y="141.5"/>
<use href="#q" x="199.1" y="134.4"/>
<use href="#q" x="186.4" y="134.1"/>
<use href="#q" x="258.8" y="136.1"/>
<use href="#q" x="298.4" y="144.3"/>
<use href="#q" x="216.9" y="134.9"/>
<use href="#q" x="273.4" y="148.0"/>
<use href="#q" x="185.9" y="134.6"/>
<use href="#q" x="279.4" y="141.7"/>
<use href="#q" x="249.5" y="136.7"/>
<use href="#q" x="240.6" y="139.1"/>
<use href="#q" x="123.7" y="132.8"/>
<use href="#q" x="254.1" y="138.8"/>
<use href="#q" x="159.6" y="133.7"/>
<use href="#q" x="199.3" y="134.5"/>
<use href="#q" x="283.2" y="139.9"/>
<use href="#q" x="225.3" y="137.3"/>
<use href="#q" x="207.3" y="134.8"/>
<use href="#q" x="282.3" y="149.5"/>
<use href="#q" x="194.1" y="135.0"/>
<use href="#q" x="177.5" y="133.9"/>
<use href="#q" x="218.4" y="135.4"/>
<use href="#q" x="322.0" y="179.4"/>
<use href="#q" x="195.0" y="135.6"/>
<use href="#q" x="155.5" y="133.8"/>
<use href="#q" x="292.9" y="148.2"/>
<use href="#q" x="278.8" y="150.7"/>
<use href="#q" x="203.1" y="135.3"/>
<use href="#q" x="237.7" y="139.2"/>
<use href="#q" x="212.4" y="135.0"/>
<use href="#q" x="220.3" y="135.7"/>
<use href="#q" x="181.5" y="133.9"/>
<use href="#q" x="278.3" y="139.0"/>
<use href="#q" x="235.8" y="136.0"/>
<use href="#q" x="290.8" y="141.8"/>
<use href="#q" x="157.9" y="133.9"/>
<use href="#q" x="318.4" y="178.3"/>
<use href="#q" x="238.8" y="135.6"/>
<use href="#q" x="281.9" y="141.6"/>
<use href="#q" x="217.7" y="135.0"/>
<use href="#q" x="248.3" y="135.9"/>
<use href="#q" x="302.8" y="149.4"/>
<use href="#q" x="278.1" y="139.1"/>
<use href="#q" x="127.1" y="132.8"/>
<use href="#q" x="279.6" y="142.1"/>
<use href="#q" x="150.9" y="133.6"/>
<use href="#q" x="324.7" y="178.8"/>
<use href="#q" x="138.0" y="133.0"/>
<use href="#q" x="186.5" y="134.9"/>
<use href="#q" x="251.4" y="139.0"/>
<use href="#q" x="261.7" y="140.3"/>
<use href="#q" x="280.2" y="141.4"/>
<use href="#q" x="289.9" y="141.5"/>
<use href="#q" x="215.6" y="135.7"/>
<use href="#q" x="203.3" y="135.0"/>
<use href="#q" x="284.1" y="141.3"/>
<use href="#q" x="326.8" y="181.6"/>
<use href="#q" x="246.3" y="140.1"/>
<use href="#q" x="296.6" y="157.2"/>
<use href="#q" x="253.0" y="136.1"/>
<use href="#q" x="127.8" y="132.8"/>
<use href="#q" x="211.7" y="134.6"/>
<use href="#q" x="188.3" y="134.3"/>
<use href="#q" x="311.0" y="174.1"/>
<use href="#q" x="263.9" y="139.0"/>
<use href="#q" x="228.1" y="136.9"/>
<use href="#q" x="295.0" y="145.9"/>
<use href="#q" x="182.1" y="134.5"/>
<use href="#q" x="270.7" y="149.4"/>
<use href="#q" x="131.2" y="132.9"/>
<use href="#q" x="250.4" y="135.9"/>
<use href="#q" x="189.9" y="135.1"/>
<use href="#q" x="233.5" y="139.6"/>
<use href="#q" x="127.3" y="132.8"/>
<use href="#q" x="223.2" y="134.9"/>
<use href="#q" x="187.3" y="134.5"/>
<use href="#q" x="204.4" y="134.7"/>
<use href="#q" x="257.4" y="138.5"/>
<use href="#q" x="132.6" y="133.3"/>
<use href="#q" x="246.7" y="138.2"/>
<use href="#q" x="131.1" y="133.0"/>
<use href="#q" x="296.5" y="157.0"/>
<use href="#q" x="273.0" y="142.7"/>
<use href="#q" x="215.5" y="134.8"/>
<use href="#q" x="265.6" y="136.6"/>
<use href="#q" x="308.2" y="161.2"/>
<use href="#q" x="247.7" y="138.7"/>
<use href="#q" x="249.8" y="139.1"/>
<use href="#q" x="247.1" y="136.7"/>
<use href="#q" x="286.5" y="146.8"/>
<use href="#q" x="170.1" y="133.7"/>
<use href="#q" x="162.9" y="133.7"/>
<use href="#q" x="305.8" y="153.1"/>
<use href="#q" x="249.1" y="135.7"/>
<use href="#q" x="276.6" y="138.7"/>
<use href="#q" x="260.0" y="140.1"/>
<use href="#q" x="237.4" y="135.6"/>
<use href="#q" x="304.9" y="155.9"/>
<use href="#q" x="128.4" y="132.9"/>
<use href="#q" x="234.1" y="135.5"/>
<use href="#q" x="259.1" y="136.5"/>
<use href="#q" x="311.5" y="169.8"/>
<use href="#q" x="201.2" y="135.8"/>
<use href="#q" x="256.8" y="136.1"/>
<use href="#q" x="145.1" y="133.2"/>
<use href="#q" x="309.2" y="167.7"/>
<use href="#q" x="244.7" y="135.6"/>
<use href="#q" x="235.2" y="137.2"/>
<use href="#q" x="326.0" y="178.8"/>
<use href="#q" x="306.6" y="154.5"/>
<use href="#q" x="130.5" y="133.3"/>
<use href="#q" x="128.8" y="132.9"/>
<use href="#q" x="160.3" y="133.9"/>
<use href="#q" x="257.3" y="136.1"/>
<use href="#q" x="139.6" y="133.2"/>
<use href="#q" x="268.1" y="137.2"/>
<use href="#q" x="133.6" y="133.4"/>
<use href="#q" x="197.4" y="135.2"/>
<use href="#q" x="233.2" y="138.9"/>
<use href="#q" x="243.3" y="136.8"/>
<use href="#q" x="309.4" y="160.7"/>
<use href="#q" x="269.3" y="138.0"/>
<use href="#q" x="142.8" y="133.1"/>
<use href="#q" x="192.9" y="134.2"/>
<use href="#q" x="298.0" y="146.2"/>
<use href="#q" x="320.3" y="177.0"/>
<use href="#q" x="154.9" y="133.7"/>
<use href="#q" x="202.0" y="135.4"/>
<use href="#q" x="322.6" y="178.0"/>
<use href="#q" x="147.7" y="133.5"/>
<use href="#q" x="304.1" y="154.0"/>
<use href="#q" x="316.9" y="173.2"/>
<use href="#q" x="287.6" y="140.7"/>
<use href="#q" x="225.9" y="142.0"/>
<use href="#q" x="137.7" y="133.5"/>
<use href="#q" x="196.3" y="135.6"/>
<use href="#q" x="203.3" y="134.5"/>
<use href="#q" x="175.3" y="134.1"/>
<use href="#q" x="259.4" y="136.3"/>
<use href="#q" x="304.1" y="148.4"/>
<use href="#q" x="170.8" y="133.8"/>
<use href="#q" x="179.1" y="134.3"/>
<use href="#q" x="317.5" y="177.9"/>
<use href="#q" x="200.7" y="134.6"/>
<use href="#q" x="230.8" y="135.2"/>
<use href="#q" x="303.2" y="150.2"/>
<use href="#q" x="180.5" y="134.4"/>
<use href="#q" x="301.1" y="156.5"/>
<use href="#q" x="163.8" y="133.8"/>
<use href="#q" x="272.5" y="141.4"/>
<use href="#q" x="300.2" y="145.0"/>
<use href="#q" x="322.7" y="184.8"/>
<use href="#q" x="214.8" y="135.4"/>
<use href="#q" x="270.1" y="137.5"/>
<use href="#q" x="274.2" y="151.8"/>
<use href="#q" x="283.7" y="141.5"/>
<use href="#q" x="156.1" y="133.5"/>
<use href="#q" x="231.6" y="135.6"/>
<use href="#q" x="296.2" y="159.4"/>
<use href="#q" x="245.4" y="139.8"/>
<use href="#q" x="193.4" y="135.6"/>
<use href="#q" x="244.4" y="135.6"/>
<use href="#q" x="256.4" y="138.5"/>
<use href="#q" x="327.5" y="183.8"/>
<use href="#q" x="327.1" y="184.9"/>
<use href="#q" x="274.5" y="138.6"/>
<use href="#q" x="193.8" y="135.7"/>
<use href="#q" x="267.6" y="138.9"/>
<use href="#q" x="192.2" y="134.5"/>
<use href="#q" x="324.6" y="179.7"/>
<use href="#q" x="326.6" y="181.0"/>
<use href="#q" x="228.7" y="135.5"/>
<use href="#q" x="254.6" y="142.0"/>
<use href="#q" x="281.6" y="145.6"/>
<use href="#q" x="232.4" y="139.5"/>
<use href="#q" x="140.5" y="133.6"/>
<use href="#q" x="196.7" y="134.4"/>
<use href="#q" x="224.4" y="135.5"/>
<use href="#q" x="134.6" y="133.0"/>
<use href="#q" x="297.8" y="144.1"/>
<use href="#q" x="282.3" y="139.7"/>
<use href="#q" x="179.8" y="133.8"/>
<use href="#q" x="301.2" y="145.6"/>
<use href="#q" x="296.8" y="160.2"/>
<use href="#q" x="217.4" y="135.2"/>
<use href="#q" x="180.3" y="133.9"/>
<use href="#q" x="290.2" y="144.1"/>
<use href="#q" x="303.5" y="145.9"/>
<use href="#q" x="316.7" y="177.1"/>
<use href="#q" x="173.8" y="133.9"/>
<use href="#q" x="130.2" y="132.9"/>
<use href="#q" x="259.9" y="138.8"/>
<use href="#q" x="261.6" y="136.1"/>
<use href="#q" x="245.9" y="139.6"/>
<use href="#q" x="326.3" y="185.0"/>
<use href="#q" x="274.7" y="145.7"/>
<use href="#q" x="252.7" y="137.6"/>
<use href="#q" x="273.3" y="137.8"/>
<use href="#q" x="291.8" y="142.0"/>
<use href="#q" x="144.5" y="133.6"/>
<use href="#q" x="206.1" y="134.9"/>
<use href="#q" x="239.8" y="137.3"/>
<use href="#q" x="251.1" y="136.1"/>
<use href="#q" x="191.7" y="135.2"/>
<use href="#q" x="168.9" y="133.7"/>
<use href="#q" x="132.3" y="132.9"/>
<use href="#q" x="156.3" y="133.6"/>
<use href="#q" x="180.0" y="133.9"/>
<use href="#q" x="263.9" y="136.6"/>
<use href="#q" x="229.1" y="138.2"/>
<use href="#q" x="263.6" y="137.5"/>
<use href="#q" x="243.9" y="138.6"/>
<use href="#q" x="129.8" y="132.9"/>
<use href="#q" x="308.2" y="165.2"/>
<use href="#q" x="125.6" y="132.8"/>
<g fill="none" stroke="#000" stroke-width="2.15">
<circle cx="487.9" cy="218.5" r="4.9"/>
<circle cx="551.8" cy="216.9" r="4.9"/>
<circle cx="442.5" cy="274.2" r="4.9"/>
<circle cx="399.3" cy="282.9" r="4.9"/>
<circle cx="408.4" cy="333.5" r="4.9"/>
<circle cx="440.7" cy="325.8" r="4.9"/>
<circle cx="394.0" cy="360.2" r="4.9"/>
<circle cx="519.0" cy="397.0" r="4.9"/>
</g>
<g fill="none" stroke="#000" stroke-width="1.15" stroke-linejoin="miter">
<path d="M468.20 110.65L482.00 110.65L475.10 97.55Z"/>
<path d="M477.60 118.55L491.40 118.55L484.50 105.45Z"/>
<path d="M514.60 142.05L528.40 142.05L521.50 128.95Z"/>
<path d="M565.00 139.85L578.80 139.85L571.90 126.75Z"/>
<path d="M598.80 159.85L612.60 159.85L605.70 146.75Z"/>
<path d="M539.30 186.85L553.10 186.85L546.20 173.75Z"/>
<path d="M559.10 186.85L572.90 186.85L566.00 173.75Z"/>
<path d="M566.00 182.75L579.80 182.75L572.90 169.65Z"/>
<path d="M585.70 212.55L599.50 212.55L592.60 199.45Z"/>
<path d="M567.50 218.15L581.30 218.15L574.40 205.05Z"/>
<path d="M499.20 214.35L513.00 214.35L506.10 201.25Z"/>
<path d="M509.90 235.95L523.70 235.95L516.80 222.85Z"/>
<path d="M551.50 232.25L565.30 232.25L558.40 219.15Z"/>
<path d="M605.70 235.95L619.50 235.95L612.60 222.85Z"/>
<path d="M629.50 241.65L643.30 241.65L636.40 228.55Z"/>
<path d="M672.80 233.75L686.60 233.75L679.70 220.65Z"/>
<path d="M484.80 271.35L498.60 271.35L491.70 258.25Z"/>
<path d="M264.80 151.25L278.60 151.25L271.70 138.15Z"/>
<path d="M266.60 157.15L280.40 157.15L273.50 144.05Z"/>
<path d="M307.80 143.55L321.60 143.55L314.70 130.45Z"/>
<path d="M330.40 132.05L344.20 132.05L337.30 118.95Z"/>
</g>
<path d="M117.25 366.69L120.64 366.68L124.02 366.66L127.41 366.64L130.79 366.62L134.18 366.60L137.57 366.58L140.95 366.56L144.34 366.54L147.72 366.52L151.11 366.49L154.50 366.47L157.88 366.44L161.27 366.42L164.65 366.39L168.04 366.36L171.42 366.33L174.81 366.30L178.20 366.27L181.58 366.23L184.97 366.20L188.35 366.16L191.74 366.12L195.13 366.08L198.51 366.04L201.90 366.00L205.28 365.95L208.67 365.91L212.06 365.86L215.44 365.81L218.83 365.76L222.21 365.70L225.60 365.64L228.99 365.58L232.37 365.52L235.76 365.46L239.14 365.39L242.53 365.32L245.92 365.25L249.30 365.17L252.69 365.09L256.07 365.01L259.46 364.93L262.84 364.84L266.23 364.75L269.62 364.65L273.00 364.55L276.39 364.45L279.77 364.34L283.16 364.22L286.55 364.11L289.93 363.99L293.32 363.86L296.70 363.73L300.09 363.59L303.48 363.44L306.86 363.30L310.25 363.14L313.63 362.98L317.02 362.81L320.41 362.63L323.79 362.45L327.18 362.26L330.56 362.07L333.95 361.84L337.34 361.61L340.72 361.37L344.11 361.12L347.49 360.86L350.88 360.59L354.27 360.32L357.65 360.03L361.04 359.73L364.42 359.42L367.81 359.09L371.19 358.76L374.58 358.41L377.97 358.05L381.35 357.67L384.74 357.29L388.12 356.88L391.51 356.46L394.90 356.03L398.28 355.57L401.67 355.10L405.05 354.62L408.44 354.11L411.83 353.59L415.21 353.04L418.60 352.47L421.98 351.89L425.37 351.28L428.76 350.64L432.14 349.99L435.53 349.30L438.91 348.59L442.30 347.86L445.69 347.10L449.07 346.30L452.46 345.48L455.84 344.63L459.23 343.74L462.61 342.82L466.00 341.87L469.39 340.88L472.77 339.86L476.16 338.79L479.54 337.69L482.93 336.56L486.32 335.40L489.70 334.19L493.09 332.93L496.47 331.63L499.86 330.28L503.25 328.88L506.63 327.44L510.02 325.94L513.40 324.38L516.79 322.78L520.18 321.11L523.56 319.39L526.95 317.61L530.33 315.77L533.72 313.86L537.11 311.90L540.49 309.86L543.88 307.77L547.26 305.60L550.65 303.37L554.03 301.07L557.42 298.70L560.81 296.26L564.19 293.74L567.58 291.16L570.96 288.50L574.35 285.78L577.74 282.98L581.12 280.12L584.51 277.19L587.89 274.19L591.28 271.13L594.67 268.01L598.05 264.83L601.44 261.59L604.82 258.31L608.21 255.00L611.60 251.66L614.98 248.30L618.37 244.93L621.75 241.56L625.14 238.20L628.53 234.85L631.91 231.54L635.30 228.27L638.68 225.07L642.07 221.93L645.46 218.89L648.84 215.96L652.23 213.15L655.61 210.48L659.00 207.98L662.38 205.65L665.77 203.53L669.16 201.62L672.54 199.94L675.93 198.50L679.31 197.32L682.70 196.41L686.09 195.77L689.47 195.41L692.86 195.33L696.24 195.53L699.63 196.00L703.02 196.74L706.40 197.72L709.79 198.93L713.17 200.37L716.56 202.01L719.95 203.84L723.33 205.84L726.72 208.00L730.10 210.30L733.49 212.73L736.88 215.28L740.26 217.92L743.65 220.65L747.03 223.46L750.42 226.34L753.80 229.28L757.19 232.27L760.58 235.30L763.96 238.36L767.35 241.46L770.73 244.59L774.12 247.74L777.51 250.91L780.89 254.10L784.28 257.30L787.66 260.51L791.05 263.73L791.05 303.04L787.66 299.82L784.28 296.60L780.89 293.40L777.51 290.22L774.12 287.05L770.73 283.90L767.35 280.77L763.96 277.67L760.58 274.60L757.19 271.57L753.80 268.58L750.42 265.65L747.03 262.77L743.65 259.96L740.26 257.23L736.88 254.58L733.49 252.04L730.10 249.61L726.72 247.30L723.33 245.14L719.95 243.14L716.56 241.31L713.17 239.67L709.79 238.23L706.40 237.02L703.02 236.04L699.63 235.31L696.24 234.84L692.86 234.63L689.47 234.71L686.09 235.07L682.70 235.71L679.31 236.63L675.93 237.81L672.54 239.24L669.16 240.92L665.77 242.83L662.38 244.96L659.00 247.28L655.61 249.79L652.23 252.45L648.84 255.26L645.46 258.19L642.07 261.24L638.68 264.37L635.30 267.58L631.91 270.85L628.53 274.16L625.14 277.50L621.75 280.86L618.37 284.23L614.98 287.60L611.60 290.96L608.21 294.30L604.82 297.61L601.44 300.90L598.05 304.13L594.67 307.31L591.28 310.43L587.89 313.49L584.51 316.49L581.12 319.42L577.74 322.29L574.35 325.08L570.96 327.81L567.58 330.46L564.19 333.05L560.81 335.56L557.42 338.00L554.03 340.37L550.65 342.67L547.26 344.91L543.88 347.07L540.49 349.17L537.11 351.20L533.72 353.17L530.33 355.07L526.95 356.91L523.56 358.69L520.18 360.42L516.79 362.08L513.40 363.69L510.02 365.24L506.63 366.74L503.25 368.19L499.86 369.58L496.47 370.93L493.09 372.23L489.70 373.49L486.32 374.70L482.93 375.87L479.54 377.00L476.16 378.10L472.77 379.16L469.39 380.19L466.00 381.18L462.61 382.13L459.23 383.05L455.84 383.93L452.46 384.78L449.07 385.61L445.69 386.40L442.30 387.16L438.91 387.90L435.53 388.61L432.14 389.29L428.76 389.95L425.37 390.58L421.98 391.19L418.60 391.78L415.21 392.34L411.83 392.89L408.44 393.42L405.05 393.92L401.67 394.41L398.28 394.88L394.90 395.33L391.51 395.77L388.12 396.19L384.74 396.59L381.35 396.98L377.97 397.35L374.58 397.71L371.19 398.06L367.81 398.40L364.42 398.72L361.04 399.03L357.65 399.33L354.27 399.62L350.88 399.90L347.49 400.17L344.11 400.43L340.72 400.67L337.34 400.91L333.95 401.15L330.56 401.37L327.18 401.57L323.79 401.76L320.41 401.94L317.02 402.11L313.63 402.28L310.25 402.44L306.86 402.60L303.48 402.75L300.09 402.89L296.70 403.03L293.32 403.16L289.93 403.29L286.55 403.41L283.16 403.53L279.77 403.64L276.39 403.75L273.00 403.85L269.62 403.95L266.23 404.05L262.84 404.14L259.46 404.23L256.07 404.32L252.69 404.40L249.30 404.48L245.92 404.55L242.53 404.63L239.14 404.70L235.76 404.76L232.37 404.83L228.99 404.89L225.60 404.95L222.21 405.00L218.83 405.06L215.44 405.11L212.06 405.16L208.67 405.21L205.28 405.26L201.90 405.30L198.51 405.35L195.13 405.39L191.74 405.43L188.35 405.47L184.97 405.50L181.58 405.54L178.20 405.57L174.81 405.60L171.42 405.64L168.04 405.67L164.65 405.69L161.27 405.72L157.88 405.75L154.50 405.77L151.11 405.80L147.72 405.82L144.34 405.84L140.95 405.87L137.57 405.89L134.18 405.91L130.79 405.93L127.41 405.95L124.02 405.96L120.64 405.98L117.25 406.00Z" fill="#0000ff" fill-opacity="0.5"/>
<path d="M117.50 131.80L118.39 131.86L119.28 131.92L120.17 131.98L121.06 132.04L121.95 132.10L122.84 132.16L123.73 132.22L124.61 132.28L125.50 132.34L126.39 132.40L127.28 132.46L128.17 132.51L129.06 132.57L129.95 132.62L130.84 132.67L131.73 132.72L132.62 132.76L133.51 132.80L134.40 132.84L135.29 132.88L136.18 132.91L137.06 132.94L137.95 132.96L138.84 132.98L139.73 133.00L140.62 133.01L141.51 133.02L142.40 133.03L143.29 133.04L144.18 133.05L145.07 133.06L145.96 133.07L146.85 133.08L147.74 133.09L148.63 133.10L149.51 133.10L150.40 133.11L151.29 133.12L152.18 133.13L153.07 133.13L153.96 133.14L154.85 133.14L155.74 133.15L156.63 133.16L157.52 133.16L158.41 133.17L159.30 133.17L160.19 133.18L161.08 133.18L161.96 133.19L162.85 133.19L163.74 133.19L164.63 133.20L165.52 133.20L166.41 133.21L167.30 133.21L168.19 133.21L169.08 133.22L169.97 133.22L170.86 133.22L171.75 133.23L172.64 133.23L173.53 133.24L174.42 133.24L175.30 133.24L176.19 133.25L177.08 133.25L177.97 133.25L178.86 133.26L179.75 133.26L180.64 133.26L181.53 133.27L182.42 133.27L183.31 133.28L184.20 133.28L185.09 133.29L185.98 133.29L186.87 133.30L187.75 133.30L188.64 133.31L189.53 133.31L190.42 133.32L191.31 133.32L192.20 133.33L193.09 133.34L193.98 133.34L194.87 133.35L195.76 133.36L196.65 133.37L197.54 133.38L198.43 133.38L199.32 133.39L200.20 133.40L201.09 133.41L201.98 133.42L202.87 133.43L203.76 133.44L204.65 133.45L205.54 133.46L206.43 133.47L207.32 133.49L208.21 133.50L209.10 133.51L209.99 133.52L210.88 133.54L211.77 133.55L212.65 133.56L213.54 133.58L214.43 133.59L215.32 133.61L216.21 133.62L217.10 133.64L217.99 133.65L218.88 133.67L219.77 133.69L220.66 133.70L221.55 133.72L222.44 133.74L223.33 133.76L224.22 133.78L225.11 133.80L225.99 133.82L226.88 133.84L227.77 133.86L228.66 133.88L229.55 133.90L230.44 133.93L231.33 133.95L232.22 133.98L233.11 134.00L234.00 134.03L234.89 134.05L235.78 134.08L236.67 134.11L237.56 134.13L238.44 134.16L239.33 134.19L240.22 134.22L241.11 134.25L242.00 134.28L242.89 134.32L243.78 134.35L244.67 134.38L245.56 134.42L246.45 134.45L247.34 134.49L248.23 134.52L249.12 134.56L250.01 134.60L250.89 134.64L251.78 134.69L252.67 134.74L253.56 134.80L254.45 134.86L255.34 134.93L256.23 135.00L257.12 135.08L258.01 135.16L258.90 135.25L259.79 135.34L260.68 135.44L261.57 135.54L262.46 135.65L263.34 135.76L264.23 135.88L265.12 136.00L266.01 136.13L266.90 136.26L267.79 136.40L268.68 136.55L269.57 136.69L270.46 136.85L271.35 137.00L272.24 137.16L273.13 137.33L274.02 137.50L274.91 137.68L275.79 137.86L276.68 138.05L277.57 138.24L278.46 138.43L279.35 138.63L280.24 138.84L281.13 139.05L282.02 139.26L282.91 139.48L283.80 139.72L284.69 139.99L285.58 140.31L286.47 140.66L287.36 141.05L288.25 141.46L289.13 141.91L290.02 142.38L290.91 142.87L291.80 143.38L292.69 143.91L293.58 144.46L294.47 145.02L295.36 145.58L296.25 146.16L297.14 146.77L298.03 147.43L298.92 148.12L299.81 148.85L300.70 149.62L301.58 150.43L302.47 151.28L303.36 152.16L304.25 153.08L305.14 154.04L306.03 155.04L306.92 156.11L307.81 157.30L308.70 158.58L309.59 159.93L310.48 161.33L311.37 162.77L312.26 164.21L313.15 165.65L314.03 167.05L314.92 168.45L315.81 169.87L316.70 171.30L317.59 172.75L318.48 174.20L319.37 175.66L320.26 177.13L321.15 178.60L322.04 180.06L322.93 181.52L323.82 182.98L324.71 184.43L325.60 185.90L326.48 187.39L327.37 188.91L328.26 190.46L329.15 192.03L330.04 193.61L330.93 195.24L331.82 196.94L332.71 198.73L333.60 200.56L334.49 202.43L335.38 204.35L336.27 206.34L337.16 208.43L338.05 210.63L338.94 212.98L339.82 215.48L340.71 218.27L341.60 221.46L342.49 224.93L343.38 228.54L344.27 232.14L345.16 235.61L346.05 238.94L346.94 242.23L347.83 245.52L348.72 248.86L349.61 252.30L350.50 255.88L351.39 259.66L352.27 263.59L353.16 267.66L354.05 271.88L354.94 276.23L355.83 280.71L356.72 285.33L357.61 290.07L358.50 294.97L359.39 300.02L360.28 305.24L361.17 310.62L362.06 316.16L362.95 321.88L363.84 327.77L364.72 333.86L365.61 340.19L366.50 346.79L367.39 353.66L368.28 360.83L369.17 368.36L370.06 376.50L370.95 385.02L371.84 393.64L372.73 402.11L373.62 410.56L374.51 419.04L375.40 427.54L376.29 436.01L377.17 444.27L378.06 452.48L378.95 462.26L379.84 473.94L380.73 486.77L381.62 500.00L382.51 512.86L383.40 524.60" fill="none" stroke="rgb(110,176,156)" stroke-opacity="0.5" stroke-width="3.1" stroke-dasharray="10.2 8.7" stroke-dashoffset="2.3"/>
<path d="M117.50 131.80L118.51 131.87L119.52 131.94L120.54 132.00L121.55 132.07L122.56 132.14L123.57 132.21L124.58 132.28L125.59 132.35L126.61 132.41L127.62 132.48L128.63 132.54L129.64 132.60L130.65 132.66L131.66 132.71L132.68 132.76L133.69 132.81L134.70 132.85L135.71 132.89L136.72 132.93L137.73 132.95L138.75 132.98L139.76 133.00L140.77 133.01L141.78 133.02L142.79 133.04L143.80 133.05L144.82 133.06L145.83 133.07L146.84 133.08L147.85 133.09L148.86 133.10L149.87 133.11L150.89 133.12L151.90 133.12L152.91 133.13L153.92 133.14L154.93 133.15L155.94 133.15L156.96 133.16L157.97 133.16L158.98 133.17L159.99 133.18L161.00 133.18L162.02 133.19L163.03 133.19L164.04 133.20L165.05 133.20L166.06 133.20L167.07 133.21L168.09 133.21L169.10 133.22L170.11 133.22L171.12 133.23L172.13 133.23L173.14 133.23L174.16 133.24L175.17 133.24L176.18 133.25L177.19 133.25L178.20 133.25L179.21 133.26L180.23 133.26L181.24 133.27L182.25 133.27L183.26 133.28L184.27 133.28L185.28 133.29L186.30 133.29L187.31 133.30L188.32 133.30L189.33 133.31L190.34 133.32L191.35 133.32L192.37 133.33L193.38 133.34L194.39 133.35L195.40 133.36L196.41 133.36L197.42 133.37L198.44 133.38L199.45 133.39L200.46 133.40L201.47 133.42L202.48 133.43L203.49 133.44L204.51 133.46L205.52 133.47L206.53 133.48L207.54 133.50L208.55 133.52L209.57 133.53L210.58 133.55L211.59 133.57L212.60 133.59L213.61 133.61L214.62 133.63L215.64 133.65L216.65 133.67L217.66 133.69L218.67 133.72L219.68 133.74L220.69 133.76L221.71 133.79L222.72 133.81L223.73 133.83L224.74 133.86L225.75 133.89L226.76 133.91L227.78 133.94L228.79 133.97L229.80 133.99L230.81 134.02L231.82 134.05L232.83 134.08L233.85 134.11L234.86 134.13L235.87 134.16L236.88 134.19L237.89 134.22L238.90 134.25L239.92 134.28L240.93 134.32L241.94 134.35L242.95 134.38L243.96 134.41L244.97 134.44L245.99 134.47L247.00 134.50L248.01 134.54L249.02 134.57L250.03 134.60L251.05 134.63L252.06 134.67L253.07 134.70L254.08 134.74L255.09 134.77L256.10 134.81L257.12 134.84L258.13 134.88L259.14 134.92L260.15 134.96L261.16 135.00L262.17 135.04L263.19 135.08L264.20 135.12L265.21 135.16L266.22 135.20L267.23 135.24L268.24 135.29L269.26 135.33L270.27 135.38L271.28 135.42L272.29 135.47L273.30 135.51L274.31 135.56L275.33 135.61L276.34 135.66L277.35 135.71L278.36 135.76L279.37 135.81L280.38 135.86L281.40 135.91L282.41 135.97L283.42 136.02L284.43 136.07L285.44 136.13L286.45 136.19L287.47 136.24L288.48 136.30L289.49 136.36L290.50 136.42L291.51 136.47L292.53 136.53L293.54 136.60L294.55 136.66L295.56 136.72L296.57 136.78L297.58 136.85L298.60 136.91L299.61 136.97L300.62 137.04L301.63 137.11L302.64 137.18L303.65 137.25L304.67 137.32L305.68 137.39L306.69 137.47L307.70 137.54L308.71 137.62L309.72 137.70L310.74 137.78L311.75 137.86L312.76 137.95L313.77 138.03L314.78 138.12L315.79 138.21L316.81 138.30L317.82 138.39L318.83 138.48L319.84 138.57L320.85 138.67L321.86 138.76L322.88 138.86L323.89 138.96L324.90 139.06L325.91 139.16L326.92 139.27L327.93 139.37L328.95 139.48L329.96 139.59L330.97 139.70L331.98 139.81L332.99 139.92L334.01 140.03L335.02 140.15L336.03 140.26L337.04 140.38L338.05 140.50L339.06 140.62L340.08 140.74L341.09 140.86L342.10 140.99L343.11 141.11L344.12 141.24L345.13 141.37L346.15 141.50L347.16 141.63L348.17 141.76L349.18 141.89L350.19 142.03L351.20 142.16L352.22 142.30L353.23 142.45L354.24 142.60L355.25 142.75L356.26 142.90L357.27 143.06L358.29 143.22L359.30 143.38L360.31 143.55L361.32 143.72L362.33 143.89L363.34 144.07L364.36 144.25L365.37 144.43L366.38 144.62L367.39 144.80L368.40 144.99L369.41 145.19L370.43 145.38L371.44 145.58L372.45 145.78L373.46 145.98L374.47 146.19L375.48 146.39L376.50 146.60L377.51 146.82L378.52 147.03L379.53 147.25L380.54 147.47L381.56 147.69L382.57 147.91L383.58 148.13L384.59 148.36L385.60 148.59L386.61 148.82L387.63 149.05L388.64 149.28L389.65 149.52L390.66 149.75L391.67 149.99L392.68 150.23L393.70 150.47L394.71 150.71L395.72 150.96L396.73 151.20L397.74 151.45L398.75 151.69L399.77 151.94L400.78 152.19L401.79 152.44L402.80 152.70L403.81 152.96L404.82 153.22L405.84 153.48L406.85 153.75L407.86 154.02L408.87 154.29L409.88 154.57L410.89 154.84L411.91 155.12L412.92 155.41L413.93 155.69L414.94 155.98L415.95 156.28L416.96 156.57L417.98 156.87L418.99 157.17L420.00 157.48" fill="none" stroke="rgb(123,82,143)" stroke-opacity="0.5" stroke-width="3.1" stroke-dasharray="10.2 8.7" stroke-dashoffset="2.5"/>
<path d="M420.00 157.48L420.79 157.72L421.59 157.96L422.38 158.21L423.17 158.45L423.96 158.70L424.76 158.95L425.55 159.21L426.34 159.46L427.13 159.72L427.93 159.98L428.72 160.24L429.51 160.50L430.30 160.76L431.10 161.03L431.89 161.30L432.68 161.57L433.47 161.84L434.27 162.11L435.06 162.39L435.85 162.67L436.65 162.95L437.44 163.23L438.23 163.52L439.02 163.81L439.82 164.09L440.61 164.39L441.40 164.68L442.19 164.97L442.99 165.27L443.78 165.57L444.57 165.87L445.36 166.18L446.16 166.48L446.95 166.79L447.74 167.10L448.54 167.42L449.33 167.73L450.12 168.05L450.91 168.37L451.71 168.69L452.50 169.02L453.29 169.36L454.08 169.69L454.88 170.03L455.67 170.38L456.46 170.73L457.25 171.08L458.05 171.44L458.84 171.80L459.63 172.16L460.42 172.53L461.22 172.91L462.01 173.28L462.80 173.66L463.60 174.05L464.39 174.44L465.18 174.83L465.97 175.23L466.77 175.63L467.56 176.03L468.35 176.44L469.14 176.85L469.94 177.27L470.73 177.68L471.52 178.11L472.31 178.53L473.11 178.96L473.90 179.40L474.69 179.84L475.48 180.28L476.28 180.72L477.07 181.17L477.86 181.62L478.66 182.08L479.45 182.54L480.24 183.00L481.03 183.47L481.83 183.94L482.62 184.42L483.41 184.89L484.20 185.37L485.00 185.86L485.79 186.35L486.58 186.84L487.37 187.33L488.17 187.83L488.96 188.34L489.75 188.84L490.55 189.35L491.34 189.87L492.13 190.40L492.92 190.94L493.72 191.49L494.51 192.05L495.30 192.62L496.09 193.19L496.89 193.78L497.68 194.37L498.47 194.97L499.26 195.57L500.06 196.19L500.85 196.81L501.64 197.44L502.43 198.08L503.23 198.72L504.02 199.37L504.81 200.02L505.61 200.68L506.40 201.35L507.19 202.02L507.98 202.69L508.78 203.38L509.57 204.06L510.36 204.75L511.15 205.45L511.95 206.14L512.74 206.84L513.53 207.55L514.32 208.26L515.12 208.97L515.91 209.69L516.70 210.42L517.49 211.15L518.29 211.89L519.08 212.64L519.87 213.39L520.67 214.14L521.46 214.91L522.25 215.68L523.04 216.45L523.84 217.23L524.63 218.02L525.42 218.81L526.21 219.61L527.01 220.42L527.80 221.23L528.59 222.05L529.38 222.88L530.18 223.71L530.97 224.56L531.76 225.40L532.56 226.26L533.35 227.12L534.14 227.98L534.93 228.86L535.73 229.74L536.52 230.63L537.31 231.52L538.10 232.42L538.90 233.33L539.69 234.25L540.48 235.17L541.27 236.11L542.07 237.04L542.86 237.99L543.65 238.95L544.44 239.93L545.24 240.92L546.03 241.93L546.82 242.95L547.62 243.99L548.41 245.04L549.20 246.11L549.99 247.18L550.79 248.27L551.58 249.37L552.37 250.47L553.16 251.59L553.96 252.72L554.75 253.85L555.54 254.99L556.33 256.13L557.13 257.29L557.92 258.44L558.71 259.60L559.51 260.77L560.30 261.93L561.09 263.10L561.88 264.27L562.68 265.45L563.47 266.62L564.26 267.79L565.05 268.97L565.85 270.15L566.64 271.34L567.43 272.53L568.22 273.74L569.02 274.96L569.81 276.19L570.60 277.44L571.39 278.71L572.19 279.99L572.98 281.30L573.77 282.62L574.57 283.97L575.36 285.35L576.15 286.75L576.94 288.19L577.74 289.67L578.53 291.20L579.32 292.76L580.11 294.36L580.91 295.99L581.70 297.65L582.49 299.33L583.28 301.02L584.08 302.74L584.87 304.46L585.66 306.19L586.45 307.93L587.25 309.66L588.04 311.38L588.83 313.10L589.63 314.81L590.42 316.49L591.21 318.16L592.00 319.78L592.80 321.38L593.59 322.96L594.38 324.53L595.17 326.12L595.97 327.71L596.76 329.34L597.55 331.02L598.34 332.74L599.14 334.53L599.93 336.40L600.72 338.36L601.52 340.42L602.31 342.57L603.10 344.80L603.89 347.12L604.69 349.51L605.48 351.97L606.27 354.48L607.06 357.04L607.86 359.65L608.65 362.29L609.44 364.96L610.23 367.65L611.03 370.35L611.82 373.06L612.61 375.77L613.40 378.47L614.20 381.15L614.99 383.81L615.78 386.44L616.58 389.03L617.37 391.58L618.16 394.09L618.95 396.58L619.75 399.07L620.54 401.54L621.33 404.00L622.12 406.46L622.92 408.92L623.71 411.36L624.50 413.81L625.29 416.26L626.09 418.71L626.88 421.16L627.67 423.61L628.46 426.07L629.26 428.54L630.05 431.01L630.84 433.50L631.64 436.00L632.43 438.51L633.22 441.03L634.01 443.58L634.81 446.14L635.60 448.72L636.39 451.32L637.18 453.95L637.98 456.59L638.77 459.26L639.56 461.94L640.35 464.64L641.15 467.36L641.94 470.09L642.73 472.84L643.53 475.60L644.32 478.38L645.11 481.17L645.90 483.98L646.70 486.79L647.49 489.62L648.28 492.47L649.07 495.32L649.87 498.19L650.66 501.07L651.45 503.95L652.24 506.85L653.04 509.76L653.83 512.68L654.62 515.60L655.41 518.55L656.21 521.56L657.00 524.60" fill="none" stroke="rgb(123,82,143)" stroke-opacity="0.5" stroke-width="3.1" stroke-dasharray="10.2 8.7" stroke-dashoffset="9.56"/>
<rect x="117.25" y="33.55" width="673.80" height="491.30" fill="none" stroke="#000" stroke-width="1.40"/>
<text x="104.3" y="42.75" font-size="23" text-anchor="end">0.5</text>
<text x="104.3" y="141.01" font-size="23" text-anchor="end">0</text>
<text x="104.3" y="239.27" font-size="23" text-anchor="end">-0.5</text>
<text x="104.3" y="337.53" font-size="23" text-anchor="end">-1</text>
<text x="104.3" y="435.79" font-size="23" text-anchor="end">-1.5</text>
<text x="104.3" y="534.05" font-size="23" text-anchor="end">-2</text>
<text x="98.95" y="566.9" font-size="23">10<tspan font-size="18.4" dy="-8.9" dx="0.4">8</tspan></text>
<text x="292.73" y="566.9" font-size="23">10<tspan font-size="18.4" dy="-8.9" dx="0.4">9</tspan></text>
<text x="481.39" y="566.9" font-size="23">10<tspan font-size="18.4" dy="-8.9" dx="0.4">10</tspan></text>
<text x="675.17" y="566.9" font-size="23">10<tspan font-size="18.4" dy="-8.9" dx="0.4">11</tspan></text>
<text transform="translate(36.5,279.2) rotate(-90)" font-size="23" text-anchor="middle">Inner slope of DM profile</text>
<text x="412.6" y="615.7" font-size="23">M<tspan font-size="18.4" dy="5.2" dx="-0.3">h</tspan><tspan dy="-5.2" dx="-0.4"> [M</tspan></text>
<circle cx="481.7" cy="615.0" r="5.8" fill="none" stroke="#000" stroke-width="1.3"/>
<circle cx="481.7" cy="615.0" r="1.3" fill="#000"/>
<text x="489.3" y="615.7" font-size="23">]</text>
<text x="703.4" y="66.50" font-size="18.2" text-anchor="end">May+21</text>
<text x="703.4" y="92.77" font-size="18.2" text-anchor="end">This work</text>
<text x="703.4" y="119.04" font-size="18.2" text-anchor="end">Hayashi+20</text>
<text x="703.4" y="145.31" font-size="18.2" text-anchor="end">Oh+15</text>
<text x="703.4" y="171.58" font-size="18.2" text-anchor="end">NIHAO</text>
<use href="#p" x="740.6" y="59.8"/>
<use href="#q" x="740.6" y="86.1"/>
<circle cx="740.6" cy="112.8" r="4.9" fill="none" stroke="#000" stroke-width="2.15"/>
<g fill="none" stroke="#000" stroke-width="1.15"><path d="M733.70 145.25L747.50 145.25L740.60 132.15Z"/></g>
<rect x="713.6" y="158.8" width="54.4" height="13" fill="#0000ff" fill-opacity="0.5"/>
</svg></body></html>
